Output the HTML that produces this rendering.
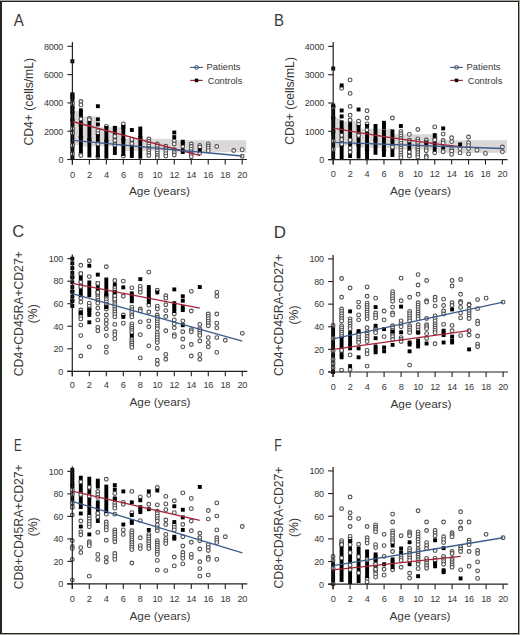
<!DOCTYPE html><html><head><meta charset="utf-8"><style>html,body{margin:0;padding:0;background:#fff;}svg{display:block;}</style></head><body>
<svg width="520" height="635" viewBox="0 0 520 635" font-family="Liberation Sans, sans-serif">
<rect x="0" y="0" width="520" height="635" fill="#fff"/>
<rect x="72.4" y="110.8" width="8.50" height="34.20" fill="#ddd8d8"/>
<rect x="80.9" y="116.5" width="16.10" height="30.00" fill="#ddd8d8"/>
<rect x="97.0" y="127.3" width="26.20" height="18.90" fill="#ddd8d8"/>
<rect x="123.2" y="138.8" width="50.70" height="12.00" fill="#ddd8d8"/>
<rect x="173.9" y="140.2" width="72.40" height="12.10" fill="#ddd8d8"/>
<circle cx="72.40" cy="97.50" r="1.88" fill="#fff" stroke="#505050" stroke-width="1.1"/>
<circle cx="72.40" cy="108.00" r="1.88" fill="#fff" stroke="#505050" stroke-width="1.1"/>
<circle cx="72.40" cy="112.00" r="1.88" fill="#fff" stroke="#505050" stroke-width="1.1"/>
<circle cx="72.40" cy="120.00" r="1.88" fill="#fff" stroke="#505050" stroke-width="1.1"/>
<circle cx="72.40" cy="133.00" r="1.88" fill="#fff" stroke="#505050" stroke-width="1.1"/>
<circle cx="72.40" cy="146.00" r="1.88" fill="#fff" stroke="#505050" stroke-width="1.1"/>
<circle cx="80.89" cy="101.50" r="1.88" fill="#fff" stroke="#505050" stroke-width="1.1"/>
<circle cx="80.89" cy="104.90" r="1.88" fill="#fff" stroke="#505050" stroke-width="1.1"/>
<circle cx="80.89" cy="153.80" r="1.88" fill="#fff" stroke="#505050" stroke-width="1.1"/>
<circle cx="80.89" cy="155.50" r="1.88" fill="#fff" stroke="#505050" stroke-width="1.1"/>
<circle cx="80.89" cy="125.00" r="1.88" fill="#fff" stroke="#505050" stroke-width="1.1"/>
<circle cx="80.89" cy="137.00" r="1.88" fill="#fff" stroke="#505050" stroke-width="1.1"/>
<circle cx="89.38" cy="118.40" r="1.88" fill="#fff" stroke="#505050" stroke-width="1.1"/>
<circle cx="89.38" cy="119.70" r="1.88" fill="#fff" stroke="#505050" stroke-width="1.1"/>
<circle cx="89.38" cy="140.00" r="1.88" fill="#fff" stroke="#505050" stroke-width="1.1"/>
<circle cx="97.87" cy="130.80" r="1.88" fill="#fff" stroke="#505050" stroke-width="1.1"/>
<circle cx="97.87" cy="133.70" r="1.88" fill="#fff" stroke="#505050" stroke-width="1.1"/>
<circle cx="97.87" cy="156.70" r="1.88" fill="#fff" stroke="#505050" stroke-width="1.1"/>
<circle cx="106.36" cy="126.40" r="1.88" fill="#fff" stroke="#505050" stroke-width="1.1"/>
<circle cx="106.36" cy="141.00" r="1.88" fill="#fff" stroke="#505050" stroke-width="1.1"/>
<circle cx="123.34" cy="123.90" r="1.88" fill="#fff" stroke="#505050" stroke-width="1.1"/>
<circle cx="123.34" cy="156.10" r="1.88" fill="#fff" stroke="#505050" stroke-width="1.1"/>
<circle cx="123.34" cy="140.00" r="1.88" fill="#fff" stroke="#505050" stroke-width="1.1"/>
<circle cx="148.81" cy="139.00" r="1.88" fill="#fff" stroke="#505050" stroke-width="1.1"/>
<circle cx="148.81" cy="141.36" r="1.88" fill="#fff" stroke="#505050" stroke-width="1.1"/>
<circle cx="148.81" cy="143.71" r="1.88" fill="#fff" stroke="#505050" stroke-width="1.1"/>
<circle cx="148.81" cy="146.07" r="1.88" fill="#fff" stroke="#505050" stroke-width="1.1"/>
<circle cx="148.81" cy="148.43" r="1.88" fill="#fff" stroke="#505050" stroke-width="1.1"/>
<circle cx="148.81" cy="150.79" r="1.88" fill="#fff" stroke="#505050" stroke-width="1.1"/>
<circle cx="148.81" cy="153.14" r="1.88" fill="#fff" stroke="#505050" stroke-width="1.1"/>
<circle cx="148.81" cy="155.50" r="1.88" fill="#fff" stroke="#505050" stroke-width="1.1"/>
<circle cx="157.30" cy="144.00" r="1.88" fill="#fff" stroke="#505050" stroke-width="1.1"/>
<circle cx="157.30" cy="146.30" r="1.88" fill="#fff" stroke="#505050" stroke-width="1.1"/>
<circle cx="157.30" cy="148.60" r="1.88" fill="#fff" stroke="#505050" stroke-width="1.1"/>
<circle cx="157.30" cy="150.90" r="1.88" fill="#fff" stroke="#505050" stroke-width="1.1"/>
<circle cx="157.30" cy="153.20" r="1.88" fill="#fff" stroke="#505050" stroke-width="1.1"/>
<circle cx="157.30" cy="155.50" r="1.88" fill="#fff" stroke="#505050" stroke-width="1.1"/>
<circle cx="157.30" cy="157.80" r="1.88" fill="#fff" stroke="#505050" stroke-width="1.1"/>
<circle cx="165.79" cy="146.30" r="1.88" fill="#fff" stroke="#505050" stroke-width="1.1"/>
<circle cx="165.79" cy="148.75" r="1.88" fill="#fff" stroke="#505050" stroke-width="1.1"/>
<circle cx="165.79" cy="151.20" r="1.88" fill="#fff" stroke="#505050" stroke-width="1.1"/>
<circle cx="165.79" cy="153.65" r="1.88" fill="#fff" stroke="#505050" stroke-width="1.1"/>
<circle cx="165.79" cy="156.10" r="1.88" fill="#fff" stroke="#505050" stroke-width="1.1"/>
<circle cx="174.28" cy="141.10" r="1.88" fill="#fff" stroke="#505050" stroke-width="1.1"/>
<circle cx="174.28" cy="144.00" r="1.88" fill="#fff" stroke="#505050" stroke-width="1.1"/>
<circle cx="174.28" cy="149.80" r="1.88" fill="#fff" stroke="#505050" stroke-width="1.1"/>
<circle cx="174.28" cy="152.60" r="1.88" fill="#fff" stroke="#505050" stroke-width="1.1"/>
<circle cx="174.28" cy="155.00" r="1.88" fill="#fff" stroke="#505050" stroke-width="1.1"/>
<circle cx="182.77" cy="146.30" r="1.88" fill="#fff" stroke="#505050" stroke-width="1.1"/>
<circle cx="191.26" cy="144.00" r="1.88" fill="#fff" stroke="#505050" stroke-width="1.1"/>
<circle cx="191.26" cy="146.54" r="1.88" fill="#fff" stroke="#505050" stroke-width="1.1"/>
<circle cx="191.26" cy="149.08" r="1.88" fill="#fff" stroke="#505050" stroke-width="1.1"/>
<circle cx="191.26" cy="151.62" r="1.88" fill="#fff" stroke="#505050" stroke-width="1.1"/>
<circle cx="191.26" cy="154.16" r="1.88" fill="#fff" stroke="#505050" stroke-width="1.1"/>
<circle cx="191.26" cy="156.70" r="1.88" fill="#fff" stroke="#505050" stroke-width="1.1"/>
<circle cx="199.75" cy="145.40" r="1.88" fill="#fff" stroke="#505050" stroke-width="1.1"/>
<circle cx="199.75" cy="147.00" r="1.88" fill="#fff" stroke="#505050" stroke-width="1.1"/>
<circle cx="199.75" cy="152.90" r="1.88" fill="#fff" stroke="#505050" stroke-width="1.1"/>
<circle cx="208.24" cy="143.90" r="1.88" fill="#fff" stroke="#505050" stroke-width="1.1"/>
<circle cx="208.24" cy="146.00" r="1.88" fill="#fff" stroke="#505050" stroke-width="1.1"/>
<circle cx="208.24" cy="148.10" r="1.88" fill="#fff" stroke="#505050" stroke-width="1.1"/>
<circle cx="208.24" cy="150.70" r="1.88" fill="#fff" stroke="#505050" stroke-width="1.1"/>
<circle cx="216.73" cy="146.50" r="1.88" fill="#fff" stroke="#505050" stroke-width="1.1"/>
<circle cx="233.71" cy="150.50" r="1.88" fill="#fff" stroke="#505050" stroke-width="1.1"/>
<circle cx="242.20" cy="149.70" r="1.88" fill="#fff" stroke="#505050" stroke-width="1.1"/>
<circle cx="242.20" cy="156.20" r="1.88" fill="#fff" stroke="#505050" stroke-width="1.1"/>
<rect x="70.45" y="93.05" width="3.9" height="66.90" fill="#000"/>
<circle cx="72.40" cy="103.40" r="1.88" fill="#fff" stroke="#505050" stroke-width="1.1"/>
<circle cx="72.40" cy="128.60" r="1.88" fill="#fff" stroke="#505050" stroke-width="1.1"/>
<circle cx="72.40" cy="132.80" r="1.88" fill="#fff" stroke="#505050" stroke-width="1.1"/>
<circle cx="72.40" cy="145.40" r="1.88" fill="#fff" stroke="#505050" stroke-width="1.1"/>
<circle cx="72.40" cy="153.80" r="1.88" fill="#fff" stroke="#505050" stroke-width="1.1"/>
<rect x="78.94" y="113.05" width="3.9" height="39.90" fill="#000"/>
<circle cx="80.89" cy="119.00" r="1.88" fill="#fff" stroke="#505050" stroke-width="1.1"/>
<rect x="87.43" y="121.05" width="3.9" height="36.40" fill="#000"/>
<rect x="95.92" y="134.05" width="3.9" height="23.40" fill="#000"/>
<circle cx="97.87" cy="143.80" r="1.88" fill="#fff" stroke="#505050" stroke-width="1.1"/>
<rect x="104.41" y="126.05" width="3.9" height="32.60" fill="#000"/>
<rect x="112.90" y="126.05" width="3.9" height="28.90" fill="#000"/>
<circle cx="114.85" cy="136.33" r="1.88" fill="#fff" stroke="#505050" stroke-width="1.1"/>
<circle cx="114.85" cy="140.50" r="1.88" fill="#fff" stroke="#505050" stroke-width="1.1"/>
<circle cx="114.85" cy="144.67" r="1.88" fill="#fff" stroke="#505050" stroke-width="1.1"/>
<rect x="121.39" y="125.05" width="3.9" height="30.90" fill="#000"/>
<rect x="129.88" y="137.45" width="3.9" height="20.50" fill="#000"/>
<circle cx="131.83" cy="139.40" r="1.88" fill="#fff" stroke="#505050" stroke-width="1.1"/>
<circle cx="131.83" cy="143.55" r="1.88" fill="#fff" stroke="#505050" stroke-width="1.1"/>
<rect x="138.37" y="136.05" width="3.9" height="22.60" fill="#000"/>
<rect x="70.45" y="59.35" width="3.9" height="3.9" fill="#000"/>
<rect x="70.45" y="92.35" width="3.9" height="3.9" fill="#000"/>
<rect x="78.94" y="108.35" width="3.9" height="3.9" fill="#000"/>
<rect x="78.94" y="111.65" width="3.9" height="3.9" fill="#000"/>
<rect x="95.92" y="104.25" width="3.9" height="3.9" fill="#000"/>
<rect x="95.92" y="117.35" width="3.9" height="3.9" fill="#000"/>
<rect x="95.92" y="122.45" width="3.9" height="3.9" fill="#000"/>
<rect x="112.90" y="125.85" width="3.9" height="3.9" fill="#000"/>
<rect x="121.39" y="124.85" width="3.9" height="3.9" fill="#000"/>
<rect x="129.88" y="128.05" width="3.9" height="3.9" fill="#000"/>
<rect x="138.37" y="126.55" width="3.9" height="3.9" fill="#000"/>
<rect x="138.37" y="129.72" width="3.9" height="3.9" fill="#000"/>
<rect x="138.37" y="132.88" width="3.9" height="3.9" fill="#000"/>
<rect x="138.37" y="136.05" width="3.9" height="3.9" fill="#000"/>
<rect x="172.33" y="130.55" width="3.9" height="3.9" fill="#000"/>
<rect x="172.33" y="135.15" width="3.9" height="3.9" fill="#000"/>
<rect x="180.82" y="139.75" width="3.9" height="3.9" fill="#000"/>
<rect x="180.82" y="141.45" width="3.9" height="3.9" fill="#000"/>
<rect x="180.82" y="148.35" width="3.9" height="3.9" fill="#000"/>
<rect x="180.82" y="150.05" width="3.9" height="3.9" fill="#000"/>
<rect x="197.80" y="148.25" width="3.9" height="3.9" fill="#000"/>
<path d="M72.40,121.50 L200.26,155.70" fill="none" stroke="#a82338" stroke-width="1.3"/>
<path d="M72.40,140.40 L242.20,156.00" fill="none" stroke="#3c5a8c" stroke-width="1.3"/>
<line x1="72.4" y1="42.0" x2="72.4" y2="164.5" stroke="#231f20" stroke-width="1.2"/>
<line x1="67.4" y1="159.5" x2="247.0" y2="159.5" stroke="#231f20" stroke-width="1.2"/>
<line x1="67.4" y1="159.50" x2="72.4" y2="159.50" stroke="#231f20" stroke-width="1.1"/>
<text x="63.20" y="162.80" font-size="9.0" letter-spacing="-0.2" text-anchor="end" fill="#383838">0</text>
<line x1="67.4" y1="131.20" x2="72.4" y2="131.20" stroke="#231f20" stroke-width="1.1"/>
<text x="63.20" y="134.50" font-size="9.0" letter-spacing="-0.2" text-anchor="end" fill="#383838">2000</text>
<line x1="67.4" y1="102.90" x2="72.4" y2="102.90" stroke="#231f20" stroke-width="1.1"/>
<text x="63.20" y="106.20" font-size="9.0" letter-spacing="-0.2" text-anchor="end" fill="#383838">4000</text>
<line x1="67.4" y1="74.60" x2="72.4" y2="74.60" stroke="#231f20" stroke-width="1.1"/>
<text x="63.20" y="77.90" font-size="9.0" letter-spacing="-0.2" text-anchor="end" fill="#383838">6000</text>
<line x1="67.4" y1="46.30" x2="72.4" y2="46.30" stroke="#231f20" stroke-width="1.1"/>
<text x="63.20" y="49.60" font-size="9.0" letter-spacing="-0.2" text-anchor="end" fill="#383838">8000</text>
<line x1="72.40" y1="159.5" x2="72.40" y2="164.5" stroke="#231f20" stroke-width="1.1"/>
<text x="72.40" y="177.5" font-size="9.2" letter-spacing="-0.25" text-anchor="middle" fill="#383838">0</text>
<line x1="89.38" y1="159.5" x2="89.38" y2="164.5" stroke="#231f20" stroke-width="1.1"/>
<text x="89.38" y="177.5" font-size="9.2" letter-spacing="-0.25" text-anchor="middle" fill="#383838">2</text>
<line x1="106.36" y1="159.5" x2="106.36" y2="164.5" stroke="#231f20" stroke-width="1.1"/>
<text x="106.36" y="177.5" font-size="9.2" letter-spacing="-0.25" text-anchor="middle" fill="#383838">4</text>
<line x1="123.34" y1="159.5" x2="123.34" y2="164.5" stroke="#231f20" stroke-width="1.1"/>
<text x="123.34" y="177.5" font-size="9.2" letter-spacing="-0.25" text-anchor="middle" fill="#383838">6</text>
<line x1="140.32" y1="159.5" x2="140.32" y2="164.5" stroke="#231f20" stroke-width="1.1"/>
<text x="140.32" y="177.5" font-size="9.2" letter-spacing="-0.25" text-anchor="middle" fill="#383838">8</text>
<line x1="157.30" y1="159.5" x2="157.30" y2="164.5" stroke="#231f20" stroke-width="1.1"/>
<text x="157.30" y="177.5" font-size="9.2" letter-spacing="-0.25" text-anchor="middle" fill="#383838">10</text>
<line x1="174.28" y1="159.5" x2="174.28" y2="164.5" stroke="#231f20" stroke-width="1.1"/>
<text x="174.28" y="177.5" font-size="9.2" letter-spacing="-0.25" text-anchor="middle" fill="#383838">12</text>
<line x1="191.26" y1="159.5" x2="191.26" y2="164.5" stroke="#231f20" stroke-width="1.1"/>
<text x="191.26" y="177.5" font-size="9.2" letter-spacing="-0.25" text-anchor="middle" fill="#383838">14</text>
<line x1="208.24" y1="159.5" x2="208.24" y2="164.5" stroke="#231f20" stroke-width="1.1"/>
<text x="208.24" y="177.5" font-size="9.2" letter-spacing="-0.25" text-anchor="middle" fill="#383838">16</text>
<line x1="225.22" y1="159.5" x2="225.22" y2="164.5" stroke="#231f20" stroke-width="1.1"/>
<text x="225.22" y="177.5" font-size="9.2" letter-spacing="-0.25" text-anchor="middle" fill="#383838">18</text>
<line x1="242.20" y1="159.5" x2="242.20" y2="164.5" stroke="#231f20" stroke-width="1.1"/>
<text x="242.20" y="177.5" font-size="9.2" letter-spacing="-0.25" text-anchor="middle" fill="#383838">20</text>
<text x="159.5" y="195.1" font-size="11.8" text-anchor="middle" fill="#383838">Age (years)</text>
<text transform="translate(33.1,101.75) rotate(-90)" x="0" y="0" font-size="12.2" text-anchor="middle" fill="#383838">CD4+ (cells/mL)</text>
<text transform="translate(13.8,25.8) scale(0.91,1)" x="0" y="0" font-size="16.6" fill="#383838">A</text>
<rect x="333.2" y="118" width="8.30" height="29.70" fill="#ddd8d8"/>
<rect x="341.5" y="121.4" width="16.50" height="24.30" fill="#ddd8d8"/>
<rect x="358" y="128.7" width="34.00" height="19.30" fill="#ddd8d8"/>
<rect x="392" y="134.2" width="46.00" height="15.40" fill="#ddd8d8"/>
<rect x="438" y="140.2" width="69.00" height="12.70" fill="#ddd8d8"/>
<circle cx="333.20" cy="118.00" r="1.88" fill="#fff" stroke="#505050" stroke-width="1.1"/>
<circle cx="333.20" cy="132.00" r="1.88" fill="#fff" stroke="#505050" stroke-width="1.1"/>
<circle cx="341.66" cy="88.30" r="1.88" fill="#fff" stroke="#505050" stroke-width="1.1"/>
<circle cx="341.66" cy="130.00" r="1.88" fill="#fff" stroke="#505050" stroke-width="1.1"/>
<circle cx="341.66" cy="145.00" r="1.88" fill="#fff" stroke="#505050" stroke-width="1.1"/>
<circle cx="350.12" cy="79.90" r="1.88" fill="#fff" stroke="#505050" stroke-width="1.1"/>
<circle cx="350.12" cy="93.40" r="1.88" fill="#fff" stroke="#505050" stroke-width="1.1"/>
<circle cx="350.12" cy="106.40" r="1.88" fill="#fff" stroke="#505050" stroke-width="1.1"/>
<circle cx="350.12" cy="115.30" r="1.88" fill="#fff" stroke="#505050" stroke-width="1.1"/>
<circle cx="350.12" cy="140.00" r="1.88" fill="#fff" stroke="#505050" stroke-width="1.1"/>
<circle cx="358.58" cy="121.20" r="1.88" fill="#fff" stroke="#505050" stroke-width="1.1"/>
<circle cx="358.58" cy="124.40" r="1.88" fill="#fff" stroke="#505050" stroke-width="1.1"/>
<circle cx="358.58" cy="145.00" r="1.88" fill="#fff" stroke="#505050" stroke-width="1.1"/>
<circle cx="367.04" cy="110.80" r="1.88" fill="#fff" stroke="#505050" stroke-width="1.1"/>
<circle cx="367.04" cy="118.00" r="1.88" fill="#fff" stroke="#505050" stroke-width="1.1"/>
<circle cx="367.04" cy="123.90" r="1.88" fill="#fff" stroke="#505050" stroke-width="1.1"/>
<circle cx="367.04" cy="150.00" r="1.88" fill="#fff" stroke="#505050" stroke-width="1.1"/>
<circle cx="375.50" cy="140.00" r="1.88" fill="#fff" stroke="#505050" stroke-width="1.1"/>
<circle cx="383.96" cy="150.00" r="1.88" fill="#fff" stroke="#505050" stroke-width="1.1"/>
<circle cx="392.42" cy="118.00" r="1.88" fill="#fff" stroke="#505050" stroke-width="1.1"/>
<circle cx="400.88" cy="131.40" r="1.88" fill="#fff" stroke="#505050" stroke-width="1.1"/>
<circle cx="400.88" cy="133.78" r="1.88" fill="#fff" stroke="#505050" stroke-width="1.1"/>
<circle cx="400.88" cy="136.16" r="1.88" fill="#fff" stroke="#505050" stroke-width="1.1"/>
<circle cx="400.88" cy="138.55" r="1.88" fill="#fff" stroke="#505050" stroke-width="1.1"/>
<circle cx="400.88" cy="140.93" r="1.88" fill="#fff" stroke="#505050" stroke-width="1.1"/>
<circle cx="400.88" cy="143.31" r="1.88" fill="#fff" stroke="#505050" stroke-width="1.1"/>
<circle cx="400.88" cy="145.69" r="1.88" fill="#fff" stroke="#505050" stroke-width="1.1"/>
<circle cx="400.88" cy="148.07" r="1.88" fill="#fff" stroke="#505050" stroke-width="1.1"/>
<circle cx="400.88" cy="150.45" r="1.88" fill="#fff" stroke="#505050" stroke-width="1.1"/>
<circle cx="400.88" cy="152.84" r="1.88" fill="#fff" stroke="#505050" stroke-width="1.1"/>
<circle cx="400.88" cy="155.22" r="1.88" fill="#fff" stroke="#505050" stroke-width="1.1"/>
<circle cx="400.88" cy="157.60" r="1.88" fill="#fff" stroke="#505050" stroke-width="1.1"/>
<circle cx="409.34" cy="134.40" r="1.88" fill="#fff" stroke="#505050" stroke-width="1.1"/>
<circle cx="417.80" cy="129.50" r="1.88" fill="#fff" stroke="#505050" stroke-width="1.1"/>
<circle cx="417.80" cy="138.90" r="1.88" fill="#fff" stroke="#505050" stroke-width="1.1"/>
<circle cx="417.80" cy="141.18" r="1.88" fill="#fff" stroke="#505050" stroke-width="1.1"/>
<circle cx="417.80" cy="143.45" r="1.88" fill="#fff" stroke="#505050" stroke-width="1.1"/>
<circle cx="417.80" cy="145.72" r="1.88" fill="#fff" stroke="#505050" stroke-width="1.1"/>
<circle cx="417.80" cy="148.00" r="1.88" fill="#fff" stroke="#505050" stroke-width="1.1"/>
<circle cx="417.80" cy="150.28" r="1.88" fill="#fff" stroke="#505050" stroke-width="1.1"/>
<circle cx="417.80" cy="152.55" r="1.88" fill="#fff" stroke="#505050" stroke-width="1.1"/>
<circle cx="417.80" cy="154.82" r="1.88" fill="#fff" stroke="#505050" stroke-width="1.1"/>
<circle cx="417.80" cy="157.10" r="1.88" fill="#fff" stroke="#505050" stroke-width="1.1"/>
<circle cx="426.26" cy="140.00" r="1.88" fill="#fff" stroke="#505050" stroke-width="1.1"/>
<circle cx="426.26" cy="142.10" r="1.88" fill="#fff" stroke="#505050" stroke-width="1.1"/>
<circle cx="426.26" cy="148.50" r="1.88" fill="#fff" stroke="#505050" stroke-width="1.1"/>
<circle cx="426.26" cy="150.70" r="1.88" fill="#fff" stroke="#505050" stroke-width="1.1"/>
<circle cx="426.26" cy="156.00" r="1.88" fill="#fff" stroke="#505050" stroke-width="1.1"/>
<circle cx="426.26" cy="157.60" r="1.88" fill="#fff" stroke="#505050" stroke-width="1.1"/>
<circle cx="434.72" cy="126.90" r="1.88" fill="#fff" stroke="#505050" stroke-width="1.1"/>
<circle cx="434.72" cy="152.80" r="1.88" fill="#fff" stroke="#505050" stroke-width="1.1"/>
<circle cx="443.18" cy="134.10" r="1.88" fill="#fff" stroke="#505050" stroke-width="1.1"/>
<circle cx="443.18" cy="140.50" r="1.88" fill="#fff" stroke="#505050" stroke-width="1.1"/>
<circle cx="443.18" cy="143.00" r="1.88" fill="#fff" stroke="#505050" stroke-width="1.1"/>
<circle cx="443.18" cy="151.70" r="1.88" fill="#fff" stroke="#505050" stroke-width="1.1"/>
<circle cx="451.64" cy="137.80" r="1.88" fill="#fff" stroke="#505050" stroke-width="1.1"/>
<circle cx="451.64" cy="141.60" r="1.88" fill="#fff" stroke="#505050" stroke-width="1.1"/>
<circle cx="451.64" cy="149.60" r="1.88" fill="#fff" stroke="#505050" stroke-width="1.1"/>
<circle cx="451.64" cy="151.20" r="1.88" fill="#fff" stroke="#505050" stroke-width="1.1"/>
<circle cx="451.64" cy="154.40" r="1.88" fill="#fff" stroke="#505050" stroke-width="1.1"/>
<circle cx="460.10" cy="148.60" r="1.88" fill="#fff" stroke="#505050" stroke-width="1.1"/>
<circle cx="460.10" cy="152.90" r="1.88" fill="#fff" stroke="#505050" stroke-width="1.1"/>
<circle cx="468.56" cy="137.00" r="1.88" fill="#fff" stroke="#505050" stroke-width="1.1"/>
<circle cx="468.56" cy="142.80" r="1.88" fill="#fff" stroke="#505050" stroke-width="1.1"/>
<circle cx="468.56" cy="145.70" r="1.88" fill="#fff" stroke="#505050" stroke-width="1.1"/>
<circle cx="468.56" cy="148.60" r="1.88" fill="#fff" stroke="#505050" stroke-width="1.1"/>
<circle cx="468.56" cy="153.90" r="1.88" fill="#fff" stroke="#505050" stroke-width="1.1"/>
<circle cx="477.02" cy="150.20" r="1.88" fill="#fff" stroke="#505050" stroke-width="1.1"/>
<circle cx="485.48" cy="153.40" r="1.88" fill="#fff" stroke="#505050" stroke-width="1.1"/>
<circle cx="502.40" cy="147.00" r="1.88" fill="#fff" stroke="#505050" stroke-width="1.1"/>
<circle cx="502.40" cy="151.80" r="1.88" fill="#fff" stroke="#505050" stroke-width="1.1"/>
<rect x="331.25" y="105.05" width="3.9" height="54.90" fill="#000"/>
<circle cx="333.20" cy="107.00" r="1.88" fill="#fff" stroke="#505050" stroke-width="1.1"/>
<circle cx="333.20" cy="141.00" r="1.88" fill="#fff" stroke="#505050" stroke-width="1.1"/>
<circle cx="333.20" cy="149.50" r="1.88" fill="#fff" stroke="#505050" stroke-width="1.1"/>
<rect x="339.71" y="120.35" width="3.9" height="38.70" fill="#000"/>
<circle cx="341.66" cy="135.35" r="1.88" fill="#fff" stroke="#505050" stroke-width="1.1"/>
<circle cx="341.66" cy="139.70" r="1.88" fill="#fff" stroke="#505050" stroke-width="1.1"/>
<circle cx="341.66" cy="144.05" r="1.88" fill="#fff" stroke="#505050" stroke-width="1.1"/>
<rect x="348.17" y="118.25" width="3.9" height="39.70" fill="#000"/>
<circle cx="350.12" cy="120.20" r="1.88" fill="#fff" stroke="#505050" stroke-width="1.1"/>
<circle cx="350.12" cy="140.09" r="1.88" fill="#fff" stroke="#505050" stroke-width="1.1"/>
<circle cx="350.12" cy="148.04" r="1.88" fill="#fff" stroke="#505050" stroke-width="1.1"/>
<circle cx="350.12" cy="152.02" r="1.88" fill="#fff" stroke="#505050" stroke-width="1.1"/>
<rect x="356.63" y="125.05" width="3.9" height="33.50" fill="#000"/>
<circle cx="358.58" cy="135.46" r="1.88" fill="#fff" stroke="#505050" stroke-width="1.1"/>
<rect x="365.09" y="124.05" width="3.9" height="36.10" fill="#000"/>
<circle cx="367.04" cy="130.03" r="1.88" fill="#fff" stroke="#505050" stroke-width="1.1"/>
<rect x="373.55" y="124.05" width="3.9" height="30.70" fill="#000"/>
<rect x="382.01" y="129.45" width="3.9" height="27.50" fill="#000"/>
<rect x="390.47" y="129.45" width="3.9" height="27.50" fill="#000"/>
<circle cx="392.42" cy="147.13" r="1.88" fill="#fff" stroke="#505050" stroke-width="1.1"/>
<rect x="407.39" y="138.55" width="3.9" height="19.40" fill="#000"/>
<circle cx="409.34" cy="140.50" r="1.88" fill="#fff" stroke="#505050" stroke-width="1.1"/>
<circle cx="409.34" cy="152.12" r="1.88" fill="#fff" stroke="#505050" stroke-width="1.1"/>
<circle cx="409.34" cy="156.00" r="1.88" fill="#fff" stroke="#505050" stroke-width="1.1"/>
<rect x="432.77" y="133.15" width="3.9" height="18.40" fill="#000"/>
<circle cx="434.72" cy="139.93" r="1.88" fill="#fff" stroke="#505050" stroke-width="1.1"/>
<rect x="331.25" y="66.55" width="3.9" height="3.9" fill="#000"/>
<rect x="331.25" y="103.55" width="3.9" height="3.9" fill="#000"/>
<rect x="339.71" y="83.45" width="3.9" height="3.9" fill="#000"/>
<rect x="339.71" y="108.55" width="3.9" height="3.9" fill="#000"/>
<rect x="339.71" y="114.45" width="3.9" height="3.9" fill="#000"/>
<rect x="356.63" y="107.55" width="3.9" height="3.9" fill="#000"/>
<rect x="382.01" y="120.85" width="3.9" height="3.9" fill="#000"/>
<rect x="382.01" y="123.00" width="3.9" height="3.9" fill="#000"/>
<rect x="382.01" y="125.15" width="3.9" height="3.9" fill="#000"/>
<rect x="398.93" y="124.05" width="3.9" height="3.9" fill="#000"/>
<rect x="424.31" y="141.25" width="3.9" height="3.9" fill="#000"/>
<rect x="441.23" y="126.45" width="3.9" height="3.9" fill="#000"/>
<rect x="441.23" y="145.55" width="3.9" height="3.9" fill="#000"/>
<rect x="458.15" y="142.45" width="3.9" height="3.9" fill="#000"/>
<path d="M333.20,128.10 L337.49,128.87 L341.77,129.63 L346.06,130.38 L350.35,131.12 L354.63,131.85 L358.92,132.57 L363.20,133.27 L367.49,133.97 L371.78,134.65 L376.06,135.33 L380.35,135.99 L384.64,136.65 L388.92,137.29 L393.21,137.93 L397.50,138.55 L401.78,139.17 L406.07,139.78 L410.36,140.38 L414.64,140.97 L418.93,141.55 L423.21,142.12 L427.50,142.68 L431.79,143.24 L436.07,143.78 L440.36,144.32 L444.65,144.85 L448.93,145.38 L453.22,145.89 L457.51,146.40 L461.79,146.90" fill="none" stroke="#a82338" stroke-width="1.3"/>
<path d="M333.20,142.30 L502.40,148.50" fill="none" stroke="#3c5a8c" stroke-width="1.3"/>
<line x1="333.2" y1="42.1" x2="333.2" y2="164.6" stroke="#231f20" stroke-width="1.2"/>
<line x1="328.2" y1="159.6" x2="507.5" y2="159.6" stroke="#231f20" stroke-width="1.2"/>
<line x1="328.2" y1="159.60" x2="333.2" y2="159.60" stroke="#231f20" stroke-width="1.1"/>
<text x="324.00" y="162.90" font-size="9.0" letter-spacing="-0.2" text-anchor="end" fill="#383838">0</text>
<line x1="328.2" y1="131.30" x2="333.2" y2="131.30" stroke="#231f20" stroke-width="1.1"/>
<text x="324.00" y="134.60" font-size="9.0" letter-spacing="-0.2" text-anchor="end" fill="#383838">1000</text>
<line x1="328.2" y1="103.00" x2="333.2" y2="103.00" stroke="#231f20" stroke-width="1.1"/>
<text x="324.00" y="106.30" font-size="9.0" letter-spacing="-0.2" text-anchor="end" fill="#383838">2000</text>
<line x1="328.2" y1="74.70" x2="333.2" y2="74.70" stroke="#231f20" stroke-width="1.1"/>
<text x="324.00" y="78.00" font-size="9.0" letter-spacing="-0.2" text-anchor="end" fill="#383838">3000</text>
<line x1="328.2" y1="46.40" x2="333.2" y2="46.40" stroke="#231f20" stroke-width="1.1"/>
<text x="324.00" y="49.70" font-size="9.0" letter-spacing="-0.2" text-anchor="end" fill="#383838">4000</text>
<line x1="333.20" y1="159.6" x2="333.20" y2="164.6" stroke="#231f20" stroke-width="1.1"/>
<text x="333.20" y="177.4" font-size="9.2" letter-spacing="-0.25" text-anchor="middle" fill="#383838">0</text>
<line x1="350.12" y1="159.6" x2="350.12" y2="164.6" stroke="#231f20" stroke-width="1.1"/>
<text x="350.12" y="177.4" font-size="9.2" letter-spacing="-0.25" text-anchor="middle" fill="#383838">2</text>
<line x1="367.04" y1="159.6" x2="367.04" y2="164.6" stroke="#231f20" stroke-width="1.1"/>
<text x="367.04" y="177.4" font-size="9.2" letter-spacing="-0.25" text-anchor="middle" fill="#383838">4</text>
<line x1="383.96" y1="159.6" x2="383.96" y2="164.6" stroke="#231f20" stroke-width="1.1"/>
<text x="383.96" y="177.4" font-size="9.2" letter-spacing="-0.25" text-anchor="middle" fill="#383838">6</text>
<line x1="400.88" y1="159.6" x2="400.88" y2="164.6" stroke="#231f20" stroke-width="1.1"/>
<text x="400.88" y="177.4" font-size="9.2" letter-spacing="-0.25" text-anchor="middle" fill="#383838">8</text>
<line x1="417.80" y1="159.6" x2="417.80" y2="164.6" stroke="#231f20" stroke-width="1.1"/>
<text x="417.80" y="177.4" font-size="9.2" letter-spacing="-0.25" text-anchor="middle" fill="#383838">10</text>
<line x1="434.72" y1="159.6" x2="434.72" y2="164.6" stroke="#231f20" stroke-width="1.1"/>
<text x="434.72" y="177.4" font-size="9.2" letter-spacing="-0.25" text-anchor="middle" fill="#383838">12</text>
<line x1="451.64" y1="159.6" x2="451.64" y2="164.6" stroke="#231f20" stroke-width="1.1"/>
<text x="451.64" y="177.4" font-size="9.2" letter-spacing="-0.25" text-anchor="middle" fill="#383838">14</text>
<line x1="468.56" y1="159.6" x2="468.56" y2="164.6" stroke="#231f20" stroke-width="1.1"/>
<text x="468.56" y="177.4" font-size="9.2" letter-spacing="-0.25" text-anchor="middle" fill="#383838">16</text>
<line x1="485.48" y1="159.6" x2="485.48" y2="164.6" stroke="#231f20" stroke-width="1.1"/>
<text x="485.48" y="177.4" font-size="9.2" letter-spacing="-0.25" text-anchor="middle" fill="#383838">18</text>
<line x1="502.40" y1="159.6" x2="502.40" y2="164.6" stroke="#231f20" stroke-width="1.1"/>
<text x="502.40" y="177.4" font-size="9.2" letter-spacing="-0.25" text-anchor="middle" fill="#383838">20</text>
<text x="420.5" y="195.4" font-size="11.8" text-anchor="middle" fill="#383838">Age (years)</text>
<text transform="translate(293.9,100.9) rotate(-90)" x="0" y="0" font-size="12.2" text-anchor="middle" fill="#383838">CD8+ (cells/mL)</text>
<text transform="translate(273.9,25.8) scale(0.9,1)" x="0" y="0" font-size="16.6" fill="#383838">B</text>
<circle cx="72.30" cy="276.67" r="1.88" fill="#fff" stroke="#505050" stroke-width="1.1"/>
<circle cx="72.30" cy="291.32" r="1.88" fill="#fff" stroke="#505050" stroke-width="1.1"/>
<circle cx="72.30" cy="300.33" r="1.88" fill="#fff" stroke="#505050" stroke-width="1.1"/>
<circle cx="80.80" cy="265.30" r="1.88" fill="#fff" stroke="#505050" stroke-width="1.1"/>
<circle cx="80.80" cy="298.19" r="1.88" fill="#fff" stroke="#505050" stroke-width="1.1"/>
<circle cx="80.80" cy="302.13" r="1.88" fill="#fff" stroke="#505050" stroke-width="1.1"/>
<circle cx="80.80" cy="310.02" r="1.88" fill="#fff" stroke="#505050" stroke-width="1.1"/>
<circle cx="80.80" cy="312.24" r="1.88" fill="#fff" stroke="#505050" stroke-width="1.1"/>
<circle cx="80.80" cy="314.47" r="1.88" fill="#fff" stroke="#505050" stroke-width="1.1"/>
<circle cx="80.80" cy="316.69" r="1.88" fill="#fff" stroke="#505050" stroke-width="1.1"/>
<circle cx="80.80" cy="318.92" r="1.88" fill="#fff" stroke="#505050" stroke-width="1.1"/>
<circle cx="80.80" cy="325.11" r="1.88" fill="#fff" stroke="#505050" stroke-width="1.1"/>
<circle cx="80.80" cy="335.59" r="1.88" fill="#fff" stroke="#505050" stroke-width="1.1"/>
<circle cx="80.80" cy="355.98" r="1.88" fill="#fff" stroke="#505050" stroke-width="1.1"/>
<circle cx="89.30" cy="260.79" r="1.88" fill="#fff" stroke="#505050" stroke-width="1.1"/>
<circle cx="89.30" cy="276.56" r="1.88" fill="#fff" stroke="#505050" stroke-width="1.1"/>
<circle cx="89.30" cy="303.15" r="1.88" fill="#fff" stroke="#505050" stroke-width="1.1"/>
<circle cx="89.30" cy="306.08" r="1.88" fill="#fff" stroke="#505050" stroke-width="1.1"/>
<circle cx="89.30" cy="309.00" r="1.88" fill="#fff" stroke="#505050" stroke-width="1.1"/>
<circle cx="89.30" cy="346.85" r="1.88" fill="#fff" stroke="#505050" stroke-width="1.1"/>
<circle cx="97.80" cy="292.44" r="1.88" fill="#fff" stroke="#505050" stroke-width="1.1"/>
<circle cx="97.80" cy="295.12" r="1.88" fill="#fff" stroke="#505050" stroke-width="1.1"/>
<circle cx="97.80" cy="297.80" r="1.88" fill="#fff" stroke="#505050" stroke-width="1.1"/>
<circle cx="97.80" cy="300.47" r="1.88" fill="#fff" stroke="#505050" stroke-width="1.1"/>
<circle cx="97.80" cy="303.15" r="1.88" fill="#fff" stroke="#505050" stroke-width="1.1"/>
<circle cx="97.80" cy="308.10" r="1.88" fill="#fff" stroke="#505050" stroke-width="1.1"/>
<circle cx="97.80" cy="313.96" r="1.88" fill="#fff" stroke="#505050" stroke-width="1.1"/>
<circle cx="97.80" cy="319.93" r="1.88" fill="#fff" stroke="#505050" stroke-width="1.1"/>
<circle cx="97.80" cy="327.37" r="1.88" fill="#fff" stroke="#505050" stroke-width="1.1"/>
<circle cx="97.80" cy="330.75" r="1.88" fill="#fff" stroke="#505050" stroke-width="1.1"/>
<circle cx="106.30" cy="266.76" r="1.88" fill="#fff" stroke="#505050" stroke-width="1.1"/>
<circle cx="106.30" cy="294.70" r="1.88" fill="#fff" stroke="#505050" stroke-width="1.1"/>
<circle cx="106.30" cy="297.08" r="1.88" fill="#fff" stroke="#505050" stroke-width="1.1"/>
<circle cx="106.30" cy="299.47" r="1.88" fill="#fff" stroke="#505050" stroke-width="1.1"/>
<circle cx="106.30" cy="301.85" r="1.88" fill="#fff" stroke="#505050" stroke-width="1.1"/>
<circle cx="106.30" cy="304.24" r="1.88" fill="#fff" stroke="#505050" stroke-width="1.1"/>
<circle cx="106.30" cy="306.62" r="1.88" fill="#fff" stroke="#505050" stroke-width="1.1"/>
<circle cx="106.30" cy="309.00" r="1.88" fill="#fff" stroke="#505050" stroke-width="1.1"/>
<circle cx="106.30" cy="314.98" r="1.88" fill="#fff" stroke="#505050" stroke-width="1.1"/>
<circle cx="106.30" cy="319.93" r="1.88" fill="#fff" stroke="#505050" stroke-width="1.1"/>
<circle cx="106.30" cy="323.87" r="1.88" fill="#fff" stroke="#505050" stroke-width="1.1"/>
<circle cx="106.30" cy="328.72" r="1.88" fill="#fff" stroke="#505050" stroke-width="1.1"/>
<circle cx="106.30" cy="335.59" r="1.88" fill="#fff" stroke="#505050" stroke-width="1.1"/>
<circle cx="106.30" cy="346.85" r="1.88" fill="#fff" stroke="#505050" stroke-width="1.1"/>
<circle cx="106.30" cy="352.37" r="1.88" fill="#fff" stroke="#505050" stroke-width="1.1"/>
<circle cx="114.80" cy="280.50" r="1.88" fill="#fff" stroke="#505050" stroke-width="1.1"/>
<circle cx="114.80" cy="287.38" r="1.88" fill="#fff" stroke="#505050" stroke-width="1.1"/>
<circle cx="114.80" cy="289.84" r="1.88" fill="#fff" stroke="#505050" stroke-width="1.1"/>
<circle cx="114.80" cy="292.29" r="1.88" fill="#fff" stroke="#505050" stroke-width="1.1"/>
<circle cx="114.80" cy="294.75" r="1.88" fill="#fff" stroke="#505050" stroke-width="1.1"/>
<circle cx="114.80" cy="297.21" r="1.88" fill="#fff" stroke="#505050" stroke-width="1.1"/>
<circle cx="114.80" cy="299.67" r="1.88" fill="#fff" stroke="#505050" stroke-width="1.1"/>
<circle cx="114.80" cy="302.13" r="1.88" fill="#fff" stroke="#505050" stroke-width="1.1"/>
<circle cx="114.80" cy="304.59" r="1.88" fill="#fff" stroke="#505050" stroke-width="1.1"/>
<circle cx="114.80" cy="307.05" r="1.88" fill="#fff" stroke="#505050" stroke-width="1.1"/>
<circle cx="114.80" cy="309.51" r="1.88" fill="#fff" stroke="#505050" stroke-width="1.1"/>
<circle cx="114.80" cy="311.97" r="1.88" fill="#fff" stroke="#505050" stroke-width="1.1"/>
<circle cx="114.80" cy="314.43" r="1.88" fill="#fff" stroke="#505050" stroke-width="1.1"/>
<circle cx="114.80" cy="316.89" r="1.88" fill="#fff" stroke="#505050" stroke-width="1.1"/>
<circle cx="114.80" cy="324.44" r="1.88" fill="#fff" stroke="#505050" stroke-width="1.1"/>
<circle cx="114.80" cy="331.76" r="1.88" fill="#fff" stroke="#505050" stroke-width="1.1"/>
<circle cx="114.80" cy="334.69" r="1.88" fill="#fff" stroke="#505050" stroke-width="1.1"/>
<circle cx="114.80" cy="338.63" r="1.88" fill="#fff" stroke="#505050" stroke-width="1.1"/>
<circle cx="123.30" cy="281.07" r="1.88" fill="#fff" stroke="#505050" stroke-width="1.1"/>
<circle cx="123.30" cy="296.28" r="1.88" fill="#fff" stroke="#505050" stroke-width="1.1"/>
<circle cx="123.30" cy="314.98" r="1.88" fill="#fff" stroke="#505050" stroke-width="1.1"/>
<circle cx="123.30" cy="323.20" r="1.88" fill="#fff" stroke="#505050" stroke-width="1.1"/>
<circle cx="131.80" cy="287.83" r="1.88" fill="#fff" stroke="#505050" stroke-width="1.1"/>
<circle cx="131.80" cy="307.09" r="1.88" fill="#fff" stroke="#505050" stroke-width="1.1"/>
<circle cx="131.80" cy="309.72" r="1.88" fill="#fff" stroke="#505050" stroke-width="1.1"/>
<circle cx="131.80" cy="312.35" r="1.88" fill="#fff" stroke="#505050" stroke-width="1.1"/>
<circle cx="131.80" cy="314.98" r="1.88" fill="#fff" stroke="#505050" stroke-width="1.1"/>
<circle cx="131.80" cy="316.89" r="1.88" fill="#fff" stroke="#505050" stroke-width="1.1"/>
<circle cx="131.80" cy="323.87" r="1.88" fill="#fff" stroke="#505050" stroke-width="1.1"/>
<circle cx="131.80" cy="326.07" r="1.88" fill="#fff" stroke="#505050" stroke-width="1.1"/>
<circle cx="131.80" cy="328.27" r="1.88" fill="#fff" stroke="#505050" stroke-width="1.1"/>
<circle cx="131.80" cy="330.46" r="1.88" fill="#fff" stroke="#505050" stroke-width="1.1"/>
<circle cx="131.80" cy="332.66" r="1.88" fill="#fff" stroke="#505050" stroke-width="1.1"/>
<circle cx="131.80" cy="338.63" r="1.88" fill="#fff" stroke="#505050" stroke-width="1.1"/>
<circle cx="131.80" cy="340.83" r="1.88" fill="#fff" stroke="#505050" stroke-width="1.1"/>
<circle cx="131.80" cy="343.02" r="1.88" fill="#fff" stroke="#505050" stroke-width="1.1"/>
<circle cx="131.80" cy="345.22" r="1.88" fill="#fff" stroke="#505050" stroke-width="1.1"/>
<circle cx="131.80" cy="347.42" r="1.88" fill="#fff" stroke="#505050" stroke-width="1.1"/>
<circle cx="140.30" cy="286.36" r="1.88" fill="#fff" stroke="#505050" stroke-width="1.1"/>
<circle cx="140.30" cy="289.35" r="1.88" fill="#fff" stroke="#505050" stroke-width="1.1"/>
<circle cx="140.30" cy="292.33" r="1.88" fill="#fff" stroke="#505050" stroke-width="1.1"/>
<circle cx="140.30" cy="309.00" r="1.88" fill="#fff" stroke="#505050" stroke-width="1.1"/>
<circle cx="140.30" cy="311.03" r="1.88" fill="#fff" stroke="#505050" stroke-width="1.1"/>
<circle cx="140.30" cy="321.85" r="1.88" fill="#fff" stroke="#505050" stroke-width="1.1"/>
<circle cx="140.30" cy="334.69" r="1.88" fill="#fff" stroke="#505050" stroke-width="1.1"/>
<circle cx="140.30" cy="357.89" r="1.88" fill="#fff" stroke="#505050" stroke-width="1.1"/>
<circle cx="148.80" cy="272.06" r="1.88" fill="#fff" stroke="#505050" stroke-width="1.1"/>
<circle cx="148.80" cy="305.17" r="1.88" fill="#fff" stroke="#505050" stroke-width="1.1"/>
<circle cx="148.80" cy="312.05" r="1.88" fill="#fff" stroke="#505050" stroke-width="1.1"/>
<circle cx="148.80" cy="320.83" r="1.88" fill="#fff" stroke="#505050" stroke-width="1.1"/>
<circle cx="148.80" cy="326.80" r="1.88" fill="#fff" stroke="#505050" stroke-width="1.1"/>
<circle cx="148.80" cy="345.84" r="1.88" fill="#fff" stroke="#505050" stroke-width="1.1"/>
<circle cx="157.30" cy="290.30" r="1.88" fill="#fff" stroke="#505050" stroke-width="1.1"/>
<circle cx="157.30" cy="306.08" r="1.88" fill="#fff" stroke="#505050" stroke-width="1.1"/>
<circle cx="157.30" cy="309.00" r="1.88" fill="#fff" stroke="#505050" stroke-width="1.1"/>
<circle cx="157.30" cy="314.98" r="1.88" fill="#fff" stroke="#505050" stroke-width="1.1"/>
<circle cx="157.30" cy="317.27" r="1.88" fill="#fff" stroke="#505050" stroke-width="1.1"/>
<circle cx="157.30" cy="319.56" r="1.88" fill="#fff" stroke="#505050" stroke-width="1.1"/>
<circle cx="157.30" cy="321.85" r="1.88" fill="#fff" stroke="#505050" stroke-width="1.1"/>
<circle cx="157.30" cy="324.14" r="1.88" fill="#fff" stroke="#505050" stroke-width="1.1"/>
<circle cx="157.30" cy="326.43" r="1.88" fill="#fff" stroke="#505050" stroke-width="1.1"/>
<circle cx="157.30" cy="328.72" r="1.88" fill="#fff" stroke="#505050" stroke-width="1.1"/>
<circle cx="157.30" cy="332.66" r="1.88" fill="#fff" stroke="#505050" stroke-width="1.1"/>
<circle cx="157.30" cy="335.14" r="1.88" fill="#fff" stroke="#505050" stroke-width="1.1"/>
<circle cx="157.30" cy="337.62" r="1.88" fill="#fff" stroke="#505050" stroke-width="1.1"/>
<circle cx="157.30" cy="340.10" r="1.88" fill="#fff" stroke="#505050" stroke-width="1.1"/>
<circle cx="157.30" cy="342.57" r="1.88" fill="#fff" stroke="#505050" stroke-width="1.1"/>
<circle cx="157.30" cy="348.43" r="1.88" fill="#fff" stroke="#505050" stroke-width="1.1"/>
<circle cx="157.30" cy="360.26" r="1.88" fill="#fff" stroke="#505050" stroke-width="1.1"/>
<circle cx="157.30" cy="364.20" r="1.88" fill="#fff" stroke="#505050" stroke-width="1.1"/>
<circle cx="165.80" cy="295.71" r="1.88" fill="#fff" stroke="#505050" stroke-width="1.1"/>
<circle cx="165.80" cy="298.19" r="1.88" fill="#fff" stroke="#505050" stroke-width="1.1"/>
<circle cx="165.80" cy="304.72" r="1.88" fill="#fff" stroke="#505050" stroke-width="1.1"/>
<circle cx="165.80" cy="310.58" r="1.88" fill="#fff" stroke="#505050" stroke-width="1.1"/>
<circle cx="165.80" cy="316.55" r="1.88" fill="#fff" stroke="#505050" stroke-width="1.1"/>
<circle cx="165.80" cy="330.75" r="1.88" fill="#fff" stroke="#505050" stroke-width="1.1"/>
<circle cx="165.80" cy="354.40" r="1.88" fill="#fff" stroke="#505050" stroke-width="1.1"/>
<circle cx="165.80" cy="359.25" r="1.88" fill="#fff" stroke="#505050" stroke-width="1.1"/>
<circle cx="174.30" cy="313.96" r="1.88" fill="#fff" stroke="#505050" stroke-width="1.1"/>
<circle cx="174.30" cy="319.93" r="1.88" fill="#fff" stroke="#505050" stroke-width="1.1"/>
<circle cx="174.30" cy="323.87" r="1.88" fill="#fff" stroke="#505050" stroke-width="1.1"/>
<circle cx="174.30" cy="327.82" r="1.88" fill="#fff" stroke="#505050" stroke-width="1.1"/>
<circle cx="174.30" cy="334.69" r="1.88" fill="#fff" stroke="#505050" stroke-width="1.1"/>
<circle cx="174.30" cy="336.38" r="1.88" fill="#fff" stroke="#505050" stroke-width="1.1"/>
<circle cx="182.80" cy="320.83" r="1.88" fill="#fff" stroke="#505050" stroke-width="1.1"/>
<circle cx="182.80" cy="331.76" r="1.88" fill="#fff" stroke="#505050" stroke-width="1.1"/>
<circle cx="182.80" cy="338.97" r="1.88" fill="#fff" stroke="#505050" stroke-width="1.1"/>
<circle cx="182.80" cy="346.85" r="1.88" fill="#fff" stroke="#505050" stroke-width="1.1"/>
<circle cx="191.30" cy="291.32" r="1.88" fill="#fff" stroke="#505050" stroke-width="1.1"/>
<circle cx="191.30" cy="311.03" r="1.88" fill="#fff" stroke="#505050" stroke-width="1.1"/>
<circle cx="191.30" cy="329.73" r="1.88" fill="#fff" stroke="#505050" stroke-width="1.1"/>
<circle cx="191.30" cy="331.76" r="1.88" fill="#fff" stroke="#505050" stroke-width="1.1"/>
<circle cx="191.30" cy="344.49" r="1.88" fill="#fff" stroke="#505050" stroke-width="1.1"/>
<circle cx="191.30" cy="355.98" r="1.88" fill="#fff" stroke="#505050" stroke-width="1.1"/>
<circle cx="199.80" cy="324.44" r="1.88" fill="#fff" stroke="#505050" stroke-width="1.1"/>
<circle cx="199.80" cy="328.72" r="1.88" fill="#fff" stroke="#505050" stroke-width="1.1"/>
<circle cx="199.80" cy="331.01" r="1.88" fill="#fff" stroke="#505050" stroke-width="1.1"/>
<circle cx="199.80" cy="333.30" r="1.88" fill="#fff" stroke="#505050" stroke-width="1.1"/>
<circle cx="199.80" cy="335.59" r="1.88" fill="#fff" stroke="#505050" stroke-width="1.1"/>
<circle cx="199.80" cy="341.00" r="1.88" fill="#fff" stroke="#505050" stroke-width="1.1"/>
<circle cx="199.80" cy="354.40" r="1.88" fill="#fff" stroke="#505050" stroke-width="1.1"/>
<circle cx="199.80" cy="359.25" r="1.88" fill="#fff" stroke="#505050" stroke-width="1.1"/>
<circle cx="208.30" cy="313.96" r="1.88" fill="#fff" stroke="#505050" stroke-width="1.1"/>
<circle cx="208.30" cy="316.33" r="1.88" fill="#fff" stroke="#505050" stroke-width="1.1"/>
<circle cx="208.30" cy="318.69" r="1.88" fill="#fff" stroke="#505050" stroke-width="1.1"/>
<circle cx="208.30" cy="321.06" r="1.88" fill="#fff" stroke="#505050" stroke-width="1.1"/>
<circle cx="208.30" cy="323.42" r="1.88" fill="#fff" stroke="#505050" stroke-width="1.1"/>
<circle cx="208.30" cy="325.79" r="1.88" fill="#fff" stroke="#505050" stroke-width="1.1"/>
<circle cx="208.30" cy="337.62" r="1.88" fill="#fff" stroke="#505050" stroke-width="1.1"/>
<circle cx="208.30" cy="342.57" r="1.88" fill="#fff" stroke="#505050" stroke-width="1.1"/>
<circle cx="208.30" cy="346.85" r="1.88" fill="#fff" stroke="#505050" stroke-width="1.1"/>
<circle cx="216.80" cy="292.33" r="1.88" fill="#fff" stroke="#505050" stroke-width="1.1"/>
<circle cx="216.80" cy="296.28" r="1.88" fill="#fff" stroke="#505050" stroke-width="1.1"/>
<circle cx="216.80" cy="313.96" r="1.88" fill="#fff" stroke="#505050" stroke-width="1.1"/>
<circle cx="216.80" cy="323.20" r="1.88" fill="#fff" stroke="#505050" stroke-width="1.1"/>
<circle cx="216.80" cy="327.82" r="1.88" fill="#fff" stroke="#505050" stroke-width="1.1"/>
<circle cx="216.80" cy="337.62" r="1.88" fill="#fff" stroke="#505050" stroke-width="1.1"/>
<circle cx="216.80" cy="352.37" r="1.88" fill="#fff" stroke="#505050" stroke-width="1.1"/>
<circle cx="225.30" cy="340.21" r="1.88" fill="#fff" stroke="#505050" stroke-width="1.1"/>
<circle cx="242.30" cy="333.34" r="1.88" fill="#fff" stroke="#505050" stroke-width="1.1"/>
<rect x="78.85" y="271.68" width="3.9" height="25.53" fill="#000"/>
<circle cx="80.80" cy="273.63" r="1.88" fill="#fff" stroke="#505050" stroke-width="1.1"/>
<circle cx="80.80" cy="282.28" r="1.88" fill="#fff" stroke="#505050" stroke-width="1.1"/>
<circle cx="80.80" cy="286.61" r="1.88" fill="#fff" stroke="#505050" stroke-width="1.1"/>
<rect x="87.35" y="280.47" width="3.9" height="16.74" fill="#000"/>
<rect x="95.85" y="281.48" width="3.9" height="12.91" fill="#000"/>
<circle cx="97.80" cy="283.43" r="1.88" fill="#fff" stroke="#505050" stroke-width="1.1"/>
<circle cx="97.80" cy="292.44" r="1.88" fill="#fff" stroke="#505050" stroke-width="1.1"/>
<rect x="104.35" y="277.54" width="3.9" height="19.11" fill="#000"/>
<rect x="112.85" y="290.50" width="3.9" height="10.66" fill="#000"/>
<circle cx="114.80" cy="295.82" r="1.88" fill="#fff" stroke="#505050" stroke-width="1.1"/>
<circle cx="114.80" cy="299.20" r="1.88" fill="#fff" stroke="#505050" stroke-width="1.1"/>
<rect x="70.35" y="256.70" width="3.9" height="3.9" fill="#000"/>
<rect x="70.35" y="261.43" width="3.9" height="3.9" fill="#000"/>
<rect x="70.35" y="266.16" width="3.9" height="3.9" fill="#000"/>
<rect x="70.35" y="270.89" width="3.9" height="3.9" fill="#000"/>
<rect x="70.35" y="275.63" width="3.9" height="3.9" fill="#000"/>
<rect x="70.35" y="280.36" width="3.9" height="3.9" fill="#000"/>
<rect x="70.35" y="285.09" width="3.9" height="3.9" fill="#000"/>
<rect x="70.35" y="289.82" width="3.9" height="3.9" fill="#000"/>
<rect x="70.35" y="294.55" width="3.9" height="3.9" fill="#000"/>
<rect x="70.35" y="299.28" width="3.9" height="3.9" fill="#000"/>
<rect x="70.35" y="304.01" width="3.9" height="3.9" fill="#000"/>
<rect x="78.85" y="311.00" width="3.9" height="3.9" fill="#000"/>
<rect x="87.35" y="263.80" width="3.9" height="3.9" fill="#000"/>
<rect x="87.35" y="308.07" width="3.9" height="3.9" fill="#000"/>
<rect x="87.35" y="310.55" width="3.9" height="3.9" fill="#000"/>
<rect x="87.35" y="313.03" width="3.9" height="3.9" fill="#000"/>
<rect x="87.35" y="320.35" width="3.9" height="3.9" fill="#000"/>
<rect x="95.85" y="272.70" width="3.9" height="3.9" fill="#000"/>
<rect x="104.35" y="305.14" width="3.9" height="3.9" fill="#000"/>
<rect x="112.85" y="282.50" width="3.9" height="3.9" fill="#000"/>
<rect x="121.35" y="285.43" width="3.9" height="3.9" fill="#000"/>
<rect x="121.35" y="314.94" width="3.9" height="3.9" fill="#000"/>
<rect x="129.85" y="291.40" width="3.9" height="3.9" fill="#000"/>
<rect x="129.85" y="294.02" width="3.9" height="3.9" fill="#000"/>
<rect x="129.85" y="296.65" width="3.9" height="3.9" fill="#000"/>
<rect x="129.85" y="299.28" width="3.9" height="3.9" fill="#000"/>
<rect x="129.85" y="333.64" width="3.9" height="3.9" fill="#000"/>
<rect x="138.35" y="277.20" width="3.9" height="3.9" fill="#000"/>
<rect x="146.85" y="285.09" width="3.9" height="3.9" fill="#000"/>
<rect x="146.85" y="288.11" width="3.9" height="3.9" fill="#000"/>
<rect x="146.85" y="291.13" width="3.9" height="3.9" fill="#000"/>
<rect x="146.85" y="294.14" width="3.9" height="3.9" fill="#000"/>
<rect x="146.85" y="297.16" width="3.9" height="3.9" fill="#000"/>
<rect x="146.85" y="300.18" width="3.9" height="3.9" fill="#000"/>
<rect x="155.35" y="290.50" width="3.9" height="3.9" fill="#000"/>
<rect x="172.35" y="287.45" width="3.9" height="3.9" fill="#000"/>
<rect x="172.35" y="301.20" width="3.9" height="3.9" fill="#000"/>
<rect x="172.35" y="303.83" width="3.9" height="3.9" fill="#000"/>
<rect x="172.35" y="306.45" width="3.9" height="3.9" fill="#000"/>
<rect x="172.35" y="309.08" width="3.9" height="3.9" fill="#000"/>
<rect x="180.85" y="294.33" width="3.9" height="3.9" fill="#000"/>
<rect x="180.85" y="298.83" width="3.9" height="3.9" fill="#000"/>
<rect x="180.85" y="305.14" width="3.9" height="3.9" fill="#000"/>
<rect x="180.85" y="308.07" width="3.9" height="3.9" fill="#000"/>
<rect x="180.85" y="323.28" width="3.9" height="3.9" fill="#000"/>
<rect x="197.85" y="285.09" width="3.9" height="3.9" fill="#000"/>
<path d="M72.30,283.43 L199.80,308.10" fill="none" stroke="#a82338" stroke-width="1.3"/>
<path d="M72.30,293.68 L242.30,341.11" fill="none" stroke="#3c5a8c" stroke-width="1.3"/>
<line x1="72.3" y1="254.5" x2="72.3" y2="376.3" stroke="#231f20" stroke-width="1.2"/>
<line x1="67.3" y1="371.3" x2="247.3" y2="371.3" stroke="#231f20" stroke-width="1.2"/>
<line x1="67.3" y1="371.30" x2="72.3" y2="371.30" stroke="#231f20" stroke-width="1.1"/>
<text x="63.10" y="374.60" font-size="9.0" letter-spacing="-0.2" text-anchor="end" fill="#383838">0</text>
<line x1="67.3" y1="348.77" x2="72.3" y2="348.77" stroke="#231f20" stroke-width="1.1"/>
<text x="63.10" y="352.07" font-size="9.0" letter-spacing="-0.2" text-anchor="end" fill="#383838">20</text>
<line x1="67.3" y1="326.24" x2="72.3" y2="326.24" stroke="#231f20" stroke-width="1.1"/>
<text x="63.10" y="329.54" font-size="9.0" letter-spacing="-0.2" text-anchor="end" fill="#383838">40</text>
<line x1="67.3" y1="303.71" x2="72.3" y2="303.71" stroke="#231f20" stroke-width="1.1"/>
<text x="63.10" y="307.01" font-size="9.0" letter-spacing="-0.2" text-anchor="end" fill="#383838">60</text>
<line x1="67.3" y1="281.18" x2="72.3" y2="281.18" stroke="#231f20" stroke-width="1.1"/>
<text x="63.10" y="284.48" font-size="9.0" letter-spacing="-0.2" text-anchor="end" fill="#383838">80</text>
<line x1="67.3" y1="258.65" x2="72.3" y2="258.65" stroke="#231f20" stroke-width="1.1"/>
<text x="63.10" y="261.95" font-size="9.0" letter-spacing="-0.2" text-anchor="end" fill="#383838">100</text>
<line x1="72.30" y1="371.3" x2="72.30" y2="376.3" stroke="#231f20" stroke-width="1.1"/>
<text x="72.30" y="387.8" font-size="9.2" letter-spacing="-0.25" text-anchor="middle" fill="#383838">0</text>
<line x1="89.30" y1="371.3" x2="89.30" y2="376.3" stroke="#231f20" stroke-width="1.1"/>
<text x="89.30" y="387.8" font-size="9.2" letter-spacing="-0.25" text-anchor="middle" fill="#383838">2</text>
<line x1="106.30" y1="371.3" x2="106.30" y2="376.3" stroke="#231f20" stroke-width="1.1"/>
<text x="106.30" y="387.8" font-size="9.2" letter-spacing="-0.25" text-anchor="middle" fill="#383838">4</text>
<line x1="123.30" y1="371.3" x2="123.30" y2="376.3" stroke="#231f20" stroke-width="1.1"/>
<text x="123.30" y="387.8" font-size="9.2" letter-spacing="-0.25" text-anchor="middle" fill="#383838">6</text>
<line x1="140.30" y1="371.3" x2="140.30" y2="376.3" stroke="#231f20" stroke-width="1.1"/>
<text x="140.30" y="387.8" font-size="9.2" letter-spacing="-0.25" text-anchor="middle" fill="#383838">8</text>
<line x1="157.30" y1="371.3" x2="157.30" y2="376.3" stroke="#231f20" stroke-width="1.1"/>
<text x="157.30" y="387.8" font-size="9.2" letter-spacing="-0.25" text-anchor="middle" fill="#383838">10</text>
<line x1="174.30" y1="371.3" x2="174.30" y2="376.3" stroke="#231f20" stroke-width="1.1"/>
<text x="174.30" y="387.8" font-size="9.2" letter-spacing="-0.25" text-anchor="middle" fill="#383838">12</text>
<line x1="191.30" y1="371.3" x2="191.30" y2="376.3" stroke="#231f20" stroke-width="1.1"/>
<text x="191.30" y="387.8" font-size="9.2" letter-spacing="-0.25" text-anchor="middle" fill="#383838">14</text>
<line x1="208.30" y1="371.3" x2="208.30" y2="376.3" stroke="#231f20" stroke-width="1.1"/>
<text x="208.30" y="387.8" font-size="9.2" letter-spacing="-0.25" text-anchor="middle" fill="#383838">16</text>
<line x1="225.30" y1="371.3" x2="225.30" y2="376.3" stroke="#231f20" stroke-width="1.1"/>
<text x="225.30" y="387.8" font-size="9.2" letter-spacing="-0.25" text-anchor="middle" fill="#383838">18</text>
<line x1="242.30" y1="371.3" x2="242.30" y2="376.3" stroke="#231f20" stroke-width="1.1"/>
<text x="242.30" y="387.8" font-size="9.2" letter-spacing="-0.25" text-anchor="middle" fill="#383838">20</text>
<text x="160.0" y="405.5" font-size="11.8" text-anchor="middle" fill="#383838">Age (years)</text>
<text transform="translate(23.0,313.7) rotate(-90)" x="0" y="0" font-size="12.2" text-anchor="middle" fill="#383838">CD4+CD45RA+CD27+</text>
<text transform="translate(37.0,313.7) rotate(-90)" x="0" y="0" font-size="12.2" text-anchor="middle" fill="#383838">(%)</text>
<text transform="translate(12.2,237.4) scale(1.0,1)" x="0" y="0" font-size="16.6" fill="#383838">C</text>
<circle cx="341.60" cy="278.47" r="1.88" fill="#fff" stroke="#505050" stroke-width="1.1"/>
<circle cx="341.60" cy="297.24" r="1.88" fill="#fff" stroke="#505050" stroke-width="1.1"/>
<circle cx="341.60" cy="309.00" r="1.88" fill="#fff" stroke="#505050" stroke-width="1.1"/>
<circle cx="341.60" cy="311.38" r="1.88" fill="#fff" stroke="#505050" stroke-width="1.1"/>
<circle cx="341.60" cy="313.75" r="1.88" fill="#fff" stroke="#505050" stroke-width="1.1"/>
<circle cx="341.60" cy="316.13" r="1.88" fill="#fff" stroke="#505050" stroke-width="1.1"/>
<circle cx="341.60" cy="318.50" r="1.88" fill="#fff" stroke="#505050" stroke-width="1.1"/>
<circle cx="341.60" cy="320.88" r="1.88" fill="#fff" stroke="#505050" stroke-width="1.1"/>
<circle cx="341.60" cy="325.74" r="1.88" fill="#fff" stroke="#505050" stroke-width="1.1"/>
<circle cx="341.60" cy="327.91" r="1.88" fill="#fff" stroke="#505050" stroke-width="1.1"/>
<circle cx="341.60" cy="330.09" r="1.88" fill="#fff" stroke="#505050" stroke-width="1.1"/>
<circle cx="341.60" cy="332.26" r="1.88" fill="#fff" stroke="#505050" stroke-width="1.1"/>
<circle cx="341.60" cy="334.43" r="1.88" fill="#fff" stroke="#505050" stroke-width="1.1"/>
<circle cx="341.60" cy="336.60" r="1.88" fill="#fff" stroke="#505050" stroke-width="1.1"/>
<circle cx="341.60" cy="370.08" r="1.88" fill="#fff" stroke="#505050" stroke-width="1.1"/>
<circle cx="350.10" cy="287.97" r="1.88" fill="#fff" stroke="#505050" stroke-width="1.1"/>
<circle cx="350.10" cy="318.84" r="1.88" fill="#fff" stroke="#505050" stroke-width="1.1"/>
<circle cx="350.10" cy="321.30" r="1.88" fill="#fff" stroke="#505050" stroke-width="1.1"/>
<circle cx="350.10" cy="323.76" r="1.88" fill="#fff" stroke="#505050" stroke-width="1.1"/>
<circle cx="350.10" cy="326.22" r="1.88" fill="#fff" stroke="#505050" stroke-width="1.1"/>
<circle cx="350.10" cy="328.68" r="1.88" fill="#fff" stroke="#505050" stroke-width="1.1"/>
<circle cx="350.10" cy="354.92" r="1.88" fill="#fff" stroke="#505050" stroke-width="1.1"/>
<circle cx="350.10" cy="369.51" r="1.88" fill="#fff" stroke="#505050" stroke-width="1.1"/>
<circle cx="358.60" cy="302.10" r="1.88" fill="#fff" stroke="#505050" stroke-width="1.1"/>
<circle cx="358.60" cy="307.08" r="1.88" fill="#fff" stroke="#505050" stroke-width="1.1"/>
<circle cx="358.60" cy="314.88" r="1.88" fill="#fff" stroke="#505050" stroke-width="1.1"/>
<circle cx="358.60" cy="319.86" r="1.88" fill="#fff" stroke="#505050" stroke-width="1.1"/>
<circle cx="358.60" cy="332.64" r="1.88" fill="#fff" stroke="#505050" stroke-width="1.1"/>
<circle cx="358.60" cy="335.10" r="1.88" fill="#fff" stroke="#505050" stroke-width="1.1"/>
<circle cx="358.60" cy="337.56" r="1.88" fill="#fff" stroke="#505050" stroke-width="1.1"/>
<circle cx="358.60" cy="340.02" r="1.88" fill="#fff" stroke="#505050" stroke-width="1.1"/>
<circle cx="358.60" cy="342.48" r="1.88" fill="#fff" stroke="#505050" stroke-width="1.1"/>
<circle cx="367.10" cy="286.95" r="1.88" fill="#fff" stroke="#505050" stroke-width="1.1"/>
<circle cx="367.10" cy="296.22" r="1.88" fill="#fff" stroke="#505050" stroke-width="1.1"/>
<circle cx="367.10" cy="303.12" r="1.88" fill="#fff" stroke="#505050" stroke-width="1.1"/>
<circle cx="367.10" cy="305.37" r="1.88" fill="#fff" stroke="#505050" stroke-width="1.1"/>
<circle cx="367.10" cy="307.61" r="1.88" fill="#fff" stroke="#505050" stroke-width="1.1"/>
<circle cx="367.10" cy="309.86" r="1.88" fill="#fff" stroke="#505050" stroke-width="1.1"/>
<circle cx="367.10" cy="312.11" r="1.88" fill="#fff" stroke="#505050" stroke-width="1.1"/>
<circle cx="367.10" cy="314.35" r="1.88" fill="#fff" stroke="#505050" stroke-width="1.1"/>
<circle cx="367.10" cy="316.60" r="1.88" fill="#fff" stroke="#505050" stroke-width="1.1"/>
<circle cx="367.10" cy="318.84" r="1.88" fill="#fff" stroke="#505050" stroke-width="1.1"/>
<circle cx="367.10" cy="327.78" r="1.88" fill="#fff" stroke="#505050" stroke-width="1.1"/>
<circle cx="367.10" cy="331.62" r="1.88" fill="#fff" stroke="#505050" stroke-width="1.1"/>
<circle cx="367.10" cy="334.08" r="1.88" fill="#fff" stroke="#505050" stroke-width="1.1"/>
<circle cx="367.10" cy="336.54" r="1.88" fill="#fff" stroke="#505050" stroke-width="1.1"/>
<circle cx="367.10" cy="339.00" r="1.88" fill="#fff" stroke="#505050" stroke-width="1.1"/>
<circle cx="367.10" cy="341.46" r="1.88" fill="#fff" stroke="#505050" stroke-width="1.1"/>
<circle cx="367.10" cy="350.40" r="1.88" fill="#fff" stroke="#505050" stroke-width="1.1"/>
<circle cx="367.10" cy="353.90" r="1.88" fill="#fff" stroke="#505050" stroke-width="1.1"/>
<circle cx="367.10" cy="366.12" r="1.88" fill="#fff" stroke="#505050" stroke-width="1.1"/>
<circle cx="375.60" cy="298.15" r="1.88" fill="#fff" stroke="#505050" stroke-width="1.1"/>
<circle cx="375.60" cy="312.96" r="1.88" fill="#fff" stroke="#505050" stroke-width="1.1"/>
<circle cx="375.60" cy="315.45" r="1.88" fill="#fff" stroke="#505050" stroke-width="1.1"/>
<circle cx="375.60" cy="317.94" r="1.88" fill="#fff" stroke="#505050" stroke-width="1.1"/>
<circle cx="375.60" cy="328.68" r="1.88" fill="#fff" stroke="#505050" stroke-width="1.1"/>
<circle cx="375.60" cy="330.66" r="1.88" fill="#fff" stroke="#505050" stroke-width="1.1"/>
<circle cx="375.60" cy="332.64" r="1.88" fill="#fff" stroke="#505050" stroke-width="1.1"/>
<circle cx="384.10" cy="311.04" r="1.88" fill="#fff" stroke="#505050" stroke-width="1.1"/>
<circle cx="384.10" cy="319.86" r="1.88" fill="#fff" stroke="#505050" stroke-width="1.1"/>
<circle cx="384.10" cy="336.60" r="1.88" fill="#fff" stroke="#505050" stroke-width="1.1"/>
<circle cx="392.60" cy="291.70" r="1.88" fill="#fff" stroke="#505050" stroke-width="1.1"/>
<circle cx="392.60" cy="294.07" r="1.88" fill="#fff" stroke="#505050" stroke-width="1.1"/>
<circle cx="392.60" cy="296.45" r="1.88" fill="#fff" stroke="#505050" stroke-width="1.1"/>
<circle cx="392.60" cy="298.82" r="1.88" fill="#fff" stroke="#505050" stroke-width="1.1"/>
<circle cx="392.60" cy="301.20" r="1.88" fill="#fff" stroke="#505050" stroke-width="1.1"/>
<circle cx="392.60" cy="307.08" r="1.88" fill="#fff" stroke="#505050" stroke-width="1.1"/>
<circle cx="392.60" cy="312.96" r="1.88" fill="#fff" stroke="#505050" stroke-width="1.1"/>
<circle cx="392.60" cy="314.88" r="1.88" fill="#fff" stroke="#505050" stroke-width="1.1"/>
<circle cx="392.60" cy="325.74" r="1.88" fill="#fff" stroke="#505050" stroke-width="1.1"/>
<circle cx="392.60" cy="327.91" r="1.88" fill="#fff" stroke="#505050" stroke-width="1.1"/>
<circle cx="392.60" cy="330.09" r="1.88" fill="#fff" stroke="#505050" stroke-width="1.1"/>
<circle cx="392.60" cy="332.26" r="1.88" fill="#fff" stroke="#505050" stroke-width="1.1"/>
<circle cx="392.60" cy="334.43" r="1.88" fill="#fff" stroke="#505050" stroke-width="1.1"/>
<circle cx="392.60" cy="336.60" r="1.88" fill="#fff" stroke="#505050" stroke-width="1.1"/>
<circle cx="392.60" cy="339.54" r="1.88" fill="#fff" stroke="#505050" stroke-width="1.1"/>
<circle cx="401.10" cy="278.13" r="1.88" fill="#fff" stroke="#505050" stroke-width="1.1"/>
<circle cx="401.10" cy="300.75" r="1.88" fill="#fff" stroke="#505050" stroke-width="1.1"/>
<circle cx="401.10" cy="320.88" r="1.88" fill="#fff" stroke="#505050" stroke-width="1.1"/>
<circle cx="401.10" cy="323.82" r="1.88" fill="#fff" stroke="#505050" stroke-width="1.1"/>
<circle cx="401.10" cy="326.76" r="1.88" fill="#fff" stroke="#505050" stroke-width="1.1"/>
<circle cx="401.10" cy="337.62" r="1.88" fill="#fff" stroke="#505050" stroke-width="1.1"/>
<circle cx="401.10" cy="339.54" r="1.88" fill="#fff" stroke="#505050" stroke-width="1.1"/>
<circle cx="401.10" cy="341.46" r="1.88" fill="#fff" stroke="#505050" stroke-width="1.1"/>
<circle cx="409.60" cy="297.24" r="1.88" fill="#fff" stroke="#505050" stroke-width="1.1"/>
<circle cx="409.60" cy="311.38" r="1.88" fill="#fff" stroke="#505050" stroke-width="1.1"/>
<circle cx="409.60" cy="313.75" r="1.88" fill="#fff" stroke="#505050" stroke-width="1.1"/>
<circle cx="409.60" cy="316.13" r="1.88" fill="#fff" stroke="#505050" stroke-width="1.1"/>
<circle cx="409.60" cy="318.50" r="1.88" fill="#fff" stroke="#505050" stroke-width="1.1"/>
<circle cx="409.60" cy="320.88" r="1.88" fill="#fff" stroke="#505050" stroke-width="1.1"/>
<circle cx="409.60" cy="325.74" r="1.88" fill="#fff" stroke="#505050" stroke-width="1.1"/>
<circle cx="409.60" cy="328.04" r="1.88" fill="#fff" stroke="#505050" stroke-width="1.1"/>
<circle cx="409.60" cy="330.34" r="1.88" fill="#fff" stroke="#505050" stroke-width="1.1"/>
<circle cx="409.60" cy="332.64" r="1.88" fill="#fff" stroke="#505050" stroke-width="1.1"/>
<circle cx="409.60" cy="365.10" r="1.88" fill="#fff" stroke="#505050" stroke-width="1.1"/>
<circle cx="418.10" cy="274.62" r="1.88" fill="#fff" stroke="#505050" stroke-width="1.1"/>
<circle cx="418.10" cy="285.03" r="1.88" fill="#fff" stroke="#505050" stroke-width="1.1"/>
<circle cx="418.10" cy="294.30" r="1.88" fill="#fff" stroke="#505050" stroke-width="1.1"/>
<circle cx="418.10" cy="302.78" r="1.88" fill="#fff" stroke="#505050" stroke-width="1.1"/>
<circle cx="418.10" cy="305.08" r="1.88" fill="#fff" stroke="#505050" stroke-width="1.1"/>
<circle cx="418.10" cy="307.37" r="1.88" fill="#fff" stroke="#505050" stroke-width="1.1"/>
<circle cx="418.10" cy="309.67" r="1.88" fill="#fff" stroke="#505050" stroke-width="1.1"/>
<circle cx="418.10" cy="311.96" r="1.88" fill="#fff" stroke="#505050" stroke-width="1.1"/>
<circle cx="418.10" cy="314.25" r="1.88" fill="#fff" stroke="#505050" stroke-width="1.1"/>
<circle cx="418.10" cy="316.55" r="1.88" fill="#fff" stroke="#505050" stroke-width="1.1"/>
<circle cx="418.10" cy="318.84" r="1.88" fill="#fff" stroke="#505050" stroke-width="1.1"/>
<circle cx="418.10" cy="324.72" r="1.88" fill="#fff" stroke="#505050" stroke-width="1.1"/>
<circle cx="418.10" cy="327.36" r="1.88" fill="#fff" stroke="#505050" stroke-width="1.1"/>
<circle cx="418.10" cy="330.00" r="1.88" fill="#fff" stroke="#505050" stroke-width="1.1"/>
<circle cx="418.10" cy="332.64" r="1.88" fill="#fff" stroke="#505050" stroke-width="1.1"/>
<circle cx="426.60" cy="280.50" r="1.88" fill="#fff" stroke="#505050" stroke-width="1.1"/>
<circle cx="426.60" cy="300.75" r="1.88" fill="#fff" stroke="#505050" stroke-width="1.1"/>
<circle cx="426.60" cy="302.10" r="1.88" fill="#fff" stroke="#505050" stroke-width="1.1"/>
<circle cx="426.60" cy="318.50" r="1.88" fill="#fff" stroke="#505050" stroke-width="1.1"/>
<circle cx="426.60" cy="324.72" r="1.88" fill="#fff" stroke="#505050" stroke-width="1.1"/>
<circle cx="426.60" cy="326.70" r="1.88" fill="#fff" stroke="#505050" stroke-width="1.1"/>
<circle cx="426.60" cy="328.68" r="1.88" fill="#fff" stroke="#505050" stroke-width="1.1"/>
<circle cx="426.60" cy="333.66" r="1.88" fill="#fff" stroke="#505050" stroke-width="1.1"/>
<circle cx="426.60" cy="338.52" r="1.88" fill="#fff" stroke="#505050" stroke-width="1.1"/>
<circle cx="435.10" cy="297.24" r="1.88" fill="#fff" stroke="#505050" stroke-width="1.1"/>
<circle cx="435.10" cy="300.18" r="1.88" fill="#fff" stroke="#505050" stroke-width="1.1"/>
<circle cx="435.10" cy="306.06" r="1.88" fill="#fff" stroke="#505050" stroke-width="1.1"/>
<circle cx="435.10" cy="315.90" r="1.88" fill="#fff" stroke="#505050" stroke-width="1.1"/>
<circle cx="435.10" cy="318.39" r="1.88" fill="#fff" stroke="#505050" stroke-width="1.1"/>
<circle cx="435.10" cy="320.88" r="1.88" fill="#fff" stroke="#505050" stroke-width="1.1"/>
<circle cx="435.10" cy="323.82" r="1.88" fill="#fff" stroke="#505050" stroke-width="1.1"/>
<circle cx="435.10" cy="326.02" r="1.88" fill="#fff" stroke="#505050" stroke-width="1.1"/>
<circle cx="435.10" cy="328.23" r="1.88" fill="#fff" stroke="#505050" stroke-width="1.1"/>
<circle cx="435.10" cy="330.44" r="1.88" fill="#fff" stroke="#505050" stroke-width="1.1"/>
<circle cx="435.10" cy="332.64" r="1.88" fill="#fff" stroke="#505050" stroke-width="1.1"/>
<circle cx="435.10" cy="343.73" r="1.88" fill="#fff" stroke="#505050" stroke-width="1.1"/>
<circle cx="443.60" cy="299.16" r="1.88" fill="#fff" stroke="#505050" stroke-width="1.1"/>
<circle cx="443.60" cy="305.50" r="1.88" fill="#fff" stroke="#505050" stroke-width="1.1"/>
<circle cx="443.60" cy="311.04" r="1.88" fill="#fff" stroke="#505050" stroke-width="1.1"/>
<circle cx="443.60" cy="313.98" r="1.88" fill="#fff" stroke="#505050" stroke-width="1.1"/>
<circle cx="443.60" cy="324.38" r="1.88" fill="#fff" stroke="#505050" stroke-width="1.1"/>
<circle cx="452.10" cy="280.50" r="1.88" fill="#fff" stroke="#505050" stroke-width="1.1"/>
<circle cx="452.10" cy="286.04" r="1.88" fill="#fff" stroke="#505050" stroke-width="1.1"/>
<circle cx="452.10" cy="302.78" r="1.88" fill="#fff" stroke="#505050" stroke-width="1.1"/>
<circle cx="452.10" cy="305.50" r="1.88" fill="#fff" stroke="#505050" stroke-width="1.1"/>
<circle cx="452.10" cy="325.40" r="1.88" fill="#fff" stroke="#505050" stroke-width="1.1"/>
<circle cx="452.10" cy="330.72" r="1.88" fill="#fff" stroke="#505050" stroke-width="1.1"/>
<circle cx="460.60" cy="279.48" r="1.88" fill="#fff" stroke="#505050" stroke-width="1.1"/>
<circle cx="460.60" cy="294.30" r="1.88" fill="#fff" stroke="#505050" stroke-width="1.1"/>
<circle cx="460.60" cy="301.54" r="1.88" fill="#fff" stroke="#505050" stroke-width="1.1"/>
<circle cx="460.60" cy="302.78" r="1.88" fill="#fff" stroke="#505050" stroke-width="1.1"/>
<circle cx="460.60" cy="307.42" r="1.88" fill="#fff" stroke="#505050" stroke-width="1.1"/>
<circle cx="460.60" cy="312.96" r="1.88" fill="#fff" stroke="#505050" stroke-width="1.1"/>
<circle cx="460.60" cy="317.94" r="1.88" fill="#fff" stroke="#505050" stroke-width="1.1"/>
<circle cx="460.60" cy="335.58" r="1.88" fill="#fff" stroke="#505050" stroke-width="1.1"/>
<circle cx="469.10" cy="304.14" r="1.88" fill="#fff" stroke="#505050" stroke-width="1.1"/>
<circle cx="469.10" cy="305.04" r="1.88" fill="#fff" stroke="#505050" stroke-width="1.1"/>
<circle cx="469.10" cy="309.00" r="1.88" fill="#fff" stroke="#505050" stroke-width="1.1"/>
<circle cx="469.10" cy="311.38" r="1.88" fill="#fff" stroke="#505050" stroke-width="1.1"/>
<circle cx="469.10" cy="313.75" r="1.88" fill="#fff" stroke="#505050" stroke-width="1.1"/>
<circle cx="469.10" cy="316.13" r="1.88" fill="#fff" stroke="#505050" stroke-width="1.1"/>
<circle cx="469.10" cy="318.50" r="1.88" fill="#fff" stroke="#505050" stroke-width="1.1"/>
<circle cx="469.10" cy="330.72" r="1.88" fill="#fff" stroke="#505050" stroke-width="1.1"/>
<circle cx="469.10" cy="335.02" r="1.88" fill="#fff" stroke="#505050" stroke-width="1.1"/>
<circle cx="477.60" cy="299.62" r="1.88" fill="#fff" stroke="#505050" stroke-width="1.1"/>
<circle cx="477.60" cy="308.66" r="1.88" fill="#fff" stroke="#505050" stroke-width="1.1"/>
<circle cx="477.60" cy="321.22" r="1.88" fill="#fff" stroke="#505050" stroke-width="1.1"/>
<circle cx="477.60" cy="323.82" r="1.88" fill="#fff" stroke="#505050" stroke-width="1.1"/>
<circle cx="477.60" cy="336.03" r="1.88" fill="#fff" stroke="#505050" stroke-width="1.1"/>
<circle cx="477.60" cy="344.06" r="1.88" fill="#fff" stroke="#505050" stroke-width="1.1"/>
<circle cx="477.60" cy="346.78" r="1.88" fill="#fff" stroke="#505050" stroke-width="1.1"/>
<circle cx="486.10" cy="298.15" r="1.88" fill="#fff" stroke="#505050" stroke-width="1.1"/>
<circle cx="503.10" cy="302.10" r="1.88" fill="#fff" stroke="#505050" stroke-width="1.1"/>
<rect x="331.15" y="323.68" width="3.9" height="50.27" fill="#000"/>
<circle cx="333.10" cy="325.63" r="1.88" fill="#fff" stroke="#505050" stroke-width="1.1"/>
<circle cx="333.10" cy="338.28" r="1.88" fill="#fff" stroke="#505050" stroke-width="1.1"/>
<circle cx="333.10" cy="350.92" r="1.88" fill="#fff" stroke="#505050" stroke-width="1.1"/>
<circle cx="333.10" cy="359.35" r="1.88" fill="#fff" stroke="#505050" stroke-width="1.1"/>
<circle cx="333.10" cy="363.57" r="1.88" fill="#fff" stroke="#505050" stroke-width="1.1"/>
<circle cx="333.10" cy="367.78" r="1.88" fill="#fff" stroke="#505050" stroke-width="1.1"/>
<rect x="339.65" y="336.57" width="3.9" height="19.73" fill="#000"/>
<circle cx="341.60" cy="350.40" r="1.88" fill="#fff" stroke="#505050" stroke-width="1.1"/>
<rect x="348.15" y="330.69" width="3.9" height="19.62" fill="#000"/>
<rect x="339.65" y="355.35" width="3.9" height="3.9" fill="#000"/>
<rect x="348.15" y="309.43" width="3.9" height="3.9" fill="#000"/>
<rect x="348.15" y="364.17" width="3.9" height="3.9" fill="#000"/>
<rect x="356.65" y="329.11" width="3.9" height="3.9" fill="#000"/>
<rect x="356.65" y="346.41" width="3.9" height="3.9" fill="#000"/>
<rect x="356.65" y="355.35" width="3.9" height="3.9" fill="#000"/>
<rect x="373.65" y="305.13" width="3.9" height="3.9" fill="#000"/>
<rect x="373.65" y="323.79" width="3.9" height="3.9" fill="#000"/>
<rect x="373.65" y="336.23" width="3.9" height="3.9" fill="#000"/>
<rect x="373.65" y="344.49" width="3.9" height="3.9" fill="#000"/>
<rect x="373.65" y="347.43" width="3.9" height="3.9" fill="#000"/>
<rect x="373.65" y="350.37" width="3.9" height="3.9" fill="#000"/>
<rect x="382.15" y="327.19" width="3.9" height="3.9" fill="#000"/>
<rect x="382.15" y="345.51" width="3.9" height="3.9" fill="#000"/>
<rect x="382.15" y="349.35" width="3.9" height="3.9" fill="#000"/>
<rect x="390.65" y="329.67" width="3.9" height="3.9" fill="#000"/>
<rect x="390.65" y="342.91" width="3.9" height="3.9" fill="#000"/>
<rect x="399.15" y="304.68" width="3.9" height="3.9" fill="#000"/>
<rect x="399.15" y="330.35" width="3.9" height="3.9" fill="#000"/>
<rect x="407.65" y="340.53" width="3.9" height="3.9" fill="#000"/>
<rect x="407.65" y="342.57" width="3.9" height="3.9" fill="#000"/>
<rect x="407.65" y="349.35" width="3.9" height="3.9" fill="#000"/>
<rect x="416.15" y="330.47" width="3.9" height="3.9" fill="#000"/>
<rect x="416.15" y="338.61" width="3.9" height="3.9" fill="#000"/>
<rect x="416.15" y="341.55" width="3.9" height="3.9" fill="#000"/>
<rect x="416.15" y="344.49" width="3.9" height="3.9" fill="#000"/>
<rect x="424.65" y="341.55" width="3.9" height="3.9" fill="#000"/>
<rect x="441.65" y="328.77" width="3.9" height="3.9" fill="#000"/>
<rect x="441.65" y="330.92" width="3.9" height="3.9" fill="#000"/>
<rect x="441.65" y="333.07" width="3.9" height="3.9" fill="#000"/>
<rect x="441.65" y="340.53" width="3.9" height="3.9" fill="#000"/>
<rect x="450.15" y="307.51" width="3.9" height="3.9" fill="#000"/>
<rect x="450.15" y="334.65" width="3.9" height="3.9" fill="#000"/>
<rect x="450.15" y="338.61" width="3.9" height="3.9" fill="#000"/>
<rect x="450.15" y="340.53" width="3.9" height="3.9" fill="#000"/>
<rect x="467.15" y="347.43" width="3.9" height="3.9" fill="#000"/>
<path d="M333.10,349.38 L469.10,330.72" fill="none" stroke="#a82338" stroke-width="1.3"/>
<path d="M333.10,338.97 L503.10,302.10" fill="none" stroke="#3c5a8c" stroke-width="1.3"/>
<line x1="333.1" y1="255.1" x2="333.1" y2="377.0" stroke="#231f20" stroke-width="1.2"/>
<line x1="328.1" y1="372.0" x2="508.0" y2="372.0" stroke="#231f20" stroke-width="1.2"/>
<line x1="328.1" y1="372.00" x2="333.1" y2="372.00" stroke="#231f20" stroke-width="1.1"/>
<text x="323.90" y="375.30" font-size="9.0" letter-spacing="-0.2" text-anchor="end" fill="#383838">0</text>
<line x1="328.1" y1="349.38" x2="333.1" y2="349.38" stroke="#231f20" stroke-width="1.1"/>
<text x="323.90" y="352.68" font-size="9.0" letter-spacing="-0.2" text-anchor="end" fill="#383838">20</text>
<line x1="328.1" y1="326.76" x2="333.1" y2="326.76" stroke="#231f20" stroke-width="1.1"/>
<text x="323.90" y="330.06" font-size="9.0" letter-spacing="-0.2" text-anchor="end" fill="#383838">40</text>
<line x1="328.1" y1="304.14" x2="333.1" y2="304.14" stroke="#231f20" stroke-width="1.1"/>
<text x="323.90" y="307.44" font-size="9.0" letter-spacing="-0.2" text-anchor="end" fill="#383838">60</text>
<line x1="328.1" y1="281.52" x2="333.1" y2="281.52" stroke="#231f20" stroke-width="1.1"/>
<text x="323.90" y="284.82" font-size="9.0" letter-spacing="-0.2" text-anchor="end" fill="#383838">80</text>
<line x1="328.1" y1="258.90" x2="333.1" y2="258.90" stroke="#231f20" stroke-width="1.1"/>
<text x="323.90" y="262.20" font-size="9.0" letter-spacing="-0.2" text-anchor="end" fill="#383838">100</text>
<line x1="333.10" y1="372.0" x2="333.10" y2="377.0" stroke="#231f20" stroke-width="1.1"/>
<text x="333.10" y="389.7" font-size="9.2" letter-spacing="-0.25" text-anchor="middle" fill="#383838">0</text>
<line x1="350.10" y1="372.0" x2="350.10" y2="377.0" stroke="#231f20" stroke-width="1.1"/>
<text x="350.10" y="389.7" font-size="9.2" letter-spacing="-0.25" text-anchor="middle" fill="#383838">2</text>
<line x1="367.10" y1="372.0" x2="367.10" y2="377.0" stroke="#231f20" stroke-width="1.1"/>
<text x="367.10" y="389.7" font-size="9.2" letter-spacing="-0.25" text-anchor="middle" fill="#383838">4</text>
<line x1="384.10" y1="372.0" x2="384.10" y2="377.0" stroke="#231f20" stroke-width="1.1"/>
<text x="384.10" y="389.7" font-size="9.2" letter-spacing="-0.25" text-anchor="middle" fill="#383838">6</text>
<line x1="401.10" y1="372.0" x2="401.10" y2="377.0" stroke="#231f20" stroke-width="1.1"/>
<text x="401.10" y="389.7" font-size="9.2" letter-spacing="-0.25" text-anchor="middle" fill="#383838">8</text>
<line x1="418.10" y1="372.0" x2="418.10" y2="377.0" stroke="#231f20" stroke-width="1.1"/>
<text x="418.10" y="389.7" font-size="9.2" letter-spacing="-0.25" text-anchor="middle" fill="#383838">10</text>
<line x1="435.10" y1="372.0" x2="435.10" y2="377.0" stroke="#231f20" stroke-width="1.1"/>
<text x="435.10" y="389.7" font-size="9.2" letter-spacing="-0.25" text-anchor="middle" fill="#383838">12</text>
<line x1="452.10" y1="372.0" x2="452.10" y2="377.0" stroke="#231f20" stroke-width="1.1"/>
<text x="452.10" y="389.7" font-size="9.2" letter-spacing="-0.25" text-anchor="middle" fill="#383838">14</text>
<line x1="469.10" y1="372.0" x2="469.10" y2="377.0" stroke="#231f20" stroke-width="1.1"/>
<text x="469.10" y="389.7" font-size="9.2" letter-spacing="-0.25" text-anchor="middle" fill="#383838">16</text>
<line x1="486.10" y1="372.0" x2="486.10" y2="377.0" stroke="#231f20" stroke-width="1.1"/>
<text x="486.10" y="389.7" font-size="9.2" letter-spacing="-0.25" text-anchor="middle" fill="#383838">18</text>
<line x1="503.10" y1="372.0" x2="503.10" y2="377.0" stroke="#231f20" stroke-width="1.1"/>
<text x="503.10" y="389.7" font-size="9.2" letter-spacing="-0.25" text-anchor="middle" fill="#383838">20</text>
<text x="421.0" y="407.8" font-size="11.8" text-anchor="middle" fill="#383838">Age (years)</text>
<text transform="translate(283.0,315.0) rotate(-90)" x="0" y="0" font-size="12.2" text-anchor="middle" fill="#383838">CD4+CD45RA-CD27+</text>
<text transform="translate(297.5,315.0) rotate(-90)" x="0" y="0" font-size="12.2" text-anchor="middle" fill="#383838">(%)</text>
<text transform="translate(273.8,238.2) scale(1.02,1)" x="0" y="0" font-size="16.6" fill="#383838">D</text>
<circle cx="72.30" cy="515.05" r="1.88" fill="#fff" stroke="#505050" stroke-width="1.1"/>
<circle cx="72.30" cy="540.70" r="1.88" fill="#fff" stroke="#505050" stroke-width="1.1"/>
<circle cx="72.30" cy="546.55" r="1.88" fill="#fff" stroke="#505050" stroke-width="1.1"/>
<circle cx="72.30" cy="548.57" r="1.88" fill="#fff" stroke="#505050" stroke-width="1.1"/>
<circle cx="72.30" cy="559.38" r="1.88" fill="#fff" stroke="#505050" stroke-width="1.1"/>
<circle cx="72.30" cy="580.07" r="1.88" fill="#fff" stroke="#505050" stroke-width="1.1"/>
<circle cx="80.80" cy="521.01" r="1.88" fill="#fff" stroke="#505050" stroke-width="1.1"/>
<circle cx="80.80" cy="531.81" r="1.88" fill="#fff" stroke="#505050" stroke-width="1.1"/>
<circle cx="80.80" cy="534.74" r="1.88" fill="#fff" stroke="#505050" stroke-width="1.1"/>
<circle cx="80.80" cy="547.56" r="1.88" fill="#fff" stroke="#505050" stroke-width="1.1"/>
<circle cx="80.80" cy="552.51" r="1.88" fill="#fff" stroke="#505050" stroke-width="1.1"/>
<circle cx="89.30" cy="516.06" r="1.88" fill="#fff" stroke="#505050" stroke-width="1.1"/>
<circle cx="89.30" cy="518.76" r="1.88" fill="#fff" stroke="#505050" stroke-width="1.1"/>
<circle cx="89.30" cy="521.46" r="1.88" fill="#fff" stroke="#505050" stroke-width="1.1"/>
<circle cx="89.30" cy="524.16" r="1.88" fill="#fff" stroke="#505050" stroke-width="1.1"/>
<circle cx="89.30" cy="526.86" r="1.88" fill="#fff" stroke="#505050" stroke-width="1.1"/>
<circle cx="89.30" cy="541.71" r="1.88" fill="#fff" stroke="#505050" stroke-width="1.1"/>
<circle cx="89.30" cy="543.68" r="1.88" fill="#fff" stroke="#505050" stroke-width="1.1"/>
<circle cx="89.30" cy="545.65" r="1.88" fill="#fff" stroke="#505050" stroke-width="1.1"/>
<circle cx="89.30" cy="576.14" r="1.88" fill="#fff" stroke="#505050" stroke-width="1.1"/>
<circle cx="97.80" cy="491.54" r="1.88" fill="#fff" stroke="#505050" stroke-width="1.1"/>
<circle cx="97.80" cy="494.46" r="1.88" fill="#fff" stroke="#505050" stroke-width="1.1"/>
<circle cx="97.80" cy="497.39" r="1.88" fill="#fff" stroke="#505050" stroke-width="1.1"/>
<circle cx="97.80" cy="532.38" r="1.88" fill="#fff" stroke="#505050" stroke-width="1.1"/>
<circle cx="97.80" cy="554.42" r="1.88" fill="#fff" stroke="#505050" stroke-width="1.1"/>
<circle cx="97.80" cy="559.38" r="1.88" fill="#fff" stroke="#505050" stroke-width="1.1"/>
<circle cx="106.30" cy="479.27" r="1.88" fill="#fff" stroke="#505050" stroke-width="1.1"/>
<circle cx="106.30" cy="514.15" r="1.88" fill="#fff" stroke="#505050" stroke-width="1.1"/>
<circle cx="106.30" cy="522.02" r="1.88" fill="#fff" stroke="#505050" stroke-width="1.1"/>
<circle cx="106.30" cy="524.65" r="1.88" fill="#fff" stroke="#505050" stroke-width="1.1"/>
<circle cx="106.30" cy="527.27" r="1.88" fill="#fff" stroke="#505050" stroke-width="1.1"/>
<circle cx="106.30" cy="529.90" r="1.88" fill="#fff" stroke="#505050" stroke-width="1.1"/>
<circle cx="106.30" cy="540.25" r="1.88" fill="#fff" stroke="#505050" stroke-width="1.1"/>
<circle cx="106.30" cy="557.46" r="1.88" fill="#fff" stroke="#505050" stroke-width="1.1"/>
<circle cx="106.30" cy="561.96" r="1.88" fill="#fff" stroke="#505050" stroke-width="1.1"/>
<circle cx="114.80" cy="493.45" r="1.88" fill="#fff" stroke="#505050" stroke-width="1.1"/>
<circle cx="114.80" cy="503.24" r="1.88" fill="#fff" stroke="#505050" stroke-width="1.1"/>
<circle cx="114.80" cy="505.71" r="1.88" fill="#fff" stroke="#505050" stroke-width="1.1"/>
<circle cx="114.80" cy="508.19" r="1.88" fill="#fff" stroke="#505050" stroke-width="1.1"/>
<circle cx="114.80" cy="514.15" r="1.88" fill="#fff" stroke="#505050" stroke-width="1.1"/>
<circle cx="114.80" cy="529.90" r="1.88" fill="#fff" stroke="#505050" stroke-width="1.1"/>
<circle cx="114.80" cy="532.26" r="1.88" fill="#fff" stroke="#505050" stroke-width="1.1"/>
<circle cx="114.80" cy="534.62" r="1.88" fill="#fff" stroke="#505050" stroke-width="1.1"/>
<circle cx="114.80" cy="536.99" r="1.88" fill="#fff" stroke="#505050" stroke-width="1.1"/>
<circle cx="114.80" cy="539.35" r="1.88" fill="#fff" stroke="#505050" stroke-width="1.1"/>
<circle cx="114.80" cy="541.71" r="1.88" fill="#fff" stroke="#505050" stroke-width="1.1"/>
<circle cx="114.80" cy="553.52" r="1.88" fill="#fff" stroke="#505050" stroke-width="1.1"/>
<circle cx="114.80" cy="556.45" r="1.88" fill="#fff" stroke="#505050" stroke-width="1.1"/>
<circle cx="114.80" cy="559.38" r="1.88" fill="#fff" stroke="#505050" stroke-width="1.1"/>
<circle cx="123.30" cy="502.34" r="1.88" fill="#fff" stroke="#505050" stroke-width="1.1"/>
<circle cx="123.30" cy="504.25" r="1.88" fill="#fff" stroke="#505050" stroke-width="1.1"/>
<circle cx="123.30" cy="529.90" r="1.88" fill="#fff" stroke="#505050" stroke-width="1.1"/>
<circle cx="123.30" cy="534.40" r="1.88" fill="#fff" stroke="#505050" stroke-width="1.1"/>
<circle cx="131.80" cy="491.42" r="1.88" fill="#fff" stroke="#505050" stroke-width="1.1"/>
<circle cx="131.80" cy="512.69" r="1.88" fill="#fff" stroke="#505050" stroke-width="1.1"/>
<circle cx="131.80" cy="530.80" r="1.88" fill="#fff" stroke="#505050" stroke-width="1.1"/>
<circle cx="131.80" cy="533.15" r="1.88" fill="#fff" stroke="#505050" stroke-width="1.1"/>
<circle cx="131.80" cy="535.50" r="1.88" fill="#fff" stroke="#505050" stroke-width="1.1"/>
<circle cx="131.80" cy="537.85" r="1.88" fill="#fff" stroke="#505050" stroke-width="1.1"/>
<circle cx="131.80" cy="540.19" r="1.88" fill="#fff" stroke="#505050" stroke-width="1.1"/>
<circle cx="131.80" cy="542.54" r="1.88" fill="#fff" stroke="#505050" stroke-width="1.1"/>
<circle cx="131.80" cy="544.89" r="1.88" fill="#fff" stroke="#505050" stroke-width="1.1"/>
<circle cx="131.80" cy="547.24" r="1.88" fill="#fff" stroke="#505050" stroke-width="1.1"/>
<circle cx="131.80" cy="549.59" r="1.88" fill="#fff" stroke="#505050" stroke-width="1.1"/>
<circle cx="131.80" cy="562.98" r="1.88" fill="#fff" stroke="#505050" stroke-width="1.1"/>
<circle cx="140.30" cy="496.94" r="1.88" fill="#fff" stroke="#505050" stroke-width="1.1"/>
<circle cx="140.30" cy="520.56" r="1.88" fill="#fff" stroke="#505050" stroke-width="1.1"/>
<circle cx="140.30" cy="537.77" r="1.88" fill="#fff" stroke="#505050" stroke-width="1.1"/>
<circle cx="140.30" cy="545.65" r="1.88" fill="#fff" stroke="#505050" stroke-width="1.1"/>
<circle cx="140.30" cy="548.57" r="1.88" fill="#fff" stroke="#505050" stroke-width="1.1"/>
<circle cx="148.80" cy="495.36" r="1.88" fill="#fff" stroke="#505050" stroke-width="1.1"/>
<circle cx="148.80" cy="504.25" r="1.88" fill="#fff" stroke="#505050" stroke-width="1.1"/>
<circle cx="148.80" cy="534.40" r="1.88" fill="#fff" stroke="#505050" stroke-width="1.1"/>
<circle cx="148.80" cy="536.76" r="1.88" fill="#fff" stroke="#505050" stroke-width="1.1"/>
<circle cx="148.80" cy="539.12" r="1.88" fill="#fff" stroke="#505050" stroke-width="1.1"/>
<circle cx="148.80" cy="541.49" r="1.88" fill="#fff" stroke="#505050" stroke-width="1.1"/>
<circle cx="148.80" cy="543.85" r="1.88" fill="#fff" stroke="#505050" stroke-width="1.1"/>
<circle cx="148.80" cy="546.21" r="1.88" fill="#fff" stroke="#505050" stroke-width="1.1"/>
<circle cx="148.80" cy="548.57" r="1.88" fill="#fff" stroke="#505050" stroke-width="1.1"/>
<circle cx="157.30" cy="487.49" r="1.88" fill="#fff" stroke="#505050" stroke-width="1.1"/>
<circle cx="157.30" cy="504.81" r="1.88" fill="#fff" stroke="#505050" stroke-width="1.1"/>
<circle cx="157.30" cy="511.22" r="1.88" fill="#fff" stroke="#505050" stroke-width="1.1"/>
<circle cx="157.30" cy="513.67" r="1.88" fill="#fff" stroke="#505050" stroke-width="1.1"/>
<circle cx="157.30" cy="516.12" r="1.88" fill="#fff" stroke="#505050" stroke-width="1.1"/>
<circle cx="157.30" cy="518.57" r="1.88" fill="#fff" stroke="#505050" stroke-width="1.1"/>
<circle cx="157.30" cy="521.01" r="1.88" fill="#fff" stroke="#505050" stroke-width="1.1"/>
<circle cx="157.30" cy="524.95" r="1.88" fill="#fff" stroke="#505050" stroke-width="1.1"/>
<circle cx="157.30" cy="527.88" r="1.88" fill="#fff" stroke="#505050" stroke-width="1.1"/>
<circle cx="157.30" cy="530.80" r="1.88" fill="#fff" stroke="#505050" stroke-width="1.1"/>
<circle cx="157.30" cy="540.70" r="1.88" fill="#fff" stroke="#505050" stroke-width="1.1"/>
<circle cx="157.30" cy="542.99" r="1.88" fill="#fff" stroke="#505050" stroke-width="1.1"/>
<circle cx="157.30" cy="545.27" r="1.88" fill="#fff" stroke="#505050" stroke-width="1.1"/>
<circle cx="157.30" cy="547.56" r="1.88" fill="#fff" stroke="#505050" stroke-width="1.1"/>
<circle cx="157.30" cy="549.85" r="1.88" fill="#fff" stroke="#505050" stroke-width="1.1"/>
<circle cx="157.30" cy="552.14" r="1.88" fill="#fff" stroke="#505050" stroke-width="1.1"/>
<circle cx="157.30" cy="554.42" r="1.88" fill="#fff" stroke="#505050" stroke-width="1.1"/>
<circle cx="157.30" cy="560.39" r="1.88" fill="#fff" stroke="#505050" stroke-width="1.1"/>
<circle cx="157.30" cy="570.17" r="1.88" fill="#fff" stroke="#505050" stroke-width="1.1"/>
<circle cx="165.80" cy="496.38" r="1.88" fill="#fff" stroke="#505050" stroke-width="1.1"/>
<circle cx="165.80" cy="503.91" r="1.88" fill="#fff" stroke="#505050" stroke-width="1.1"/>
<circle cx="165.80" cy="509.65" r="1.88" fill="#fff" stroke="#505050" stroke-width="1.1"/>
<circle cx="165.80" cy="520.00" r="1.88" fill="#fff" stroke="#505050" stroke-width="1.1"/>
<circle cx="165.80" cy="524.50" r="1.88" fill="#fff" stroke="#505050" stroke-width="1.1"/>
<circle cx="165.80" cy="534.40" r="1.88" fill="#fff" stroke="#505050" stroke-width="1.1"/>
<circle cx="165.80" cy="538.67" r="1.88" fill="#fff" stroke="#505050" stroke-width="1.1"/>
<circle cx="165.80" cy="541.15" r="1.88" fill="#fff" stroke="#505050" stroke-width="1.1"/>
<circle cx="165.80" cy="543.62" r="1.88" fill="#fff" stroke="#505050" stroke-width="1.1"/>
<circle cx="165.80" cy="570.62" r="1.88" fill="#fff" stroke="#505050" stroke-width="1.1"/>
<circle cx="174.30" cy="500.76" r="1.88" fill="#fff" stroke="#505050" stroke-width="1.1"/>
<circle cx="174.30" cy="512.69" r="1.88" fill="#fff" stroke="#505050" stroke-width="1.1"/>
<circle cx="174.30" cy="524.95" r="1.88" fill="#fff" stroke="#505050" stroke-width="1.1"/>
<circle cx="174.30" cy="527.42" r="1.88" fill="#fff" stroke="#505050" stroke-width="1.1"/>
<circle cx="174.30" cy="529.90" r="1.88" fill="#fff" stroke="#505050" stroke-width="1.1"/>
<circle cx="174.30" cy="557.01" r="1.88" fill="#fff" stroke="#505050" stroke-width="1.1"/>
<circle cx="174.30" cy="565.90" r="1.88" fill="#fff" stroke="#505050" stroke-width="1.1"/>
<circle cx="182.80" cy="492.89" r="1.88" fill="#fff" stroke="#505050" stroke-width="1.1"/>
<circle cx="182.80" cy="524.50" r="1.88" fill="#fff" stroke="#505050" stroke-width="1.1"/>
<circle cx="182.80" cy="536.76" r="1.88" fill="#fff" stroke="#505050" stroke-width="1.1"/>
<circle cx="182.80" cy="545.99" r="1.88" fill="#fff" stroke="#505050" stroke-width="1.1"/>
<circle cx="182.80" cy="552.51" r="1.88" fill="#fff" stroke="#505050" stroke-width="1.1"/>
<circle cx="182.80" cy="555.44" r="1.88" fill="#fff" stroke="#505050" stroke-width="1.1"/>
<circle cx="182.80" cy="558.36" r="1.88" fill="#fff" stroke="#505050" stroke-width="1.1"/>
<circle cx="182.80" cy="563.88" r="1.88" fill="#fff" stroke="#505050" stroke-width="1.1"/>
<circle cx="191.30" cy="498.40" r="1.88" fill="#fff" stroke="#505050" stroke-width="1.1"/>
<circle cx="191.30" cy="508.64" r="1.88" fill="#fff" stroke="#505050" stroke-width="1.1"/>
<circle cx="191.30" cy="521.01" r="1.88" fill="#fff" stroke="#505050" stroke-width="1.1"/>
<circle cx="191.30" cy="530.80" r="1.88" fill="#fff" stroke="#505050" stroke-width="1.1"/>
<circle cx="191.30" cy="542.27" r="1.88" fill="#fff" stroke="#505050" stroke-width="1.1"/>
<circle cx="191.30" cy="554.42" r="1.88" fill="#fff" stroke="#505050" stroke-width="1.1"/>
<circle cx="191.30" cy="557.46" r="1.88" fill="#fff" stroke="#505050" stroke-width="1.1"/>
<circle cx="199.80" cy="533.27" r="1.88" fill="#fff" stroke="#505050" stroke-width="1.1"/>
<circle cx="199.80" cy="537.77" r="1.88" fill="#fff" stroke="#505050" stroke-width="1.1"/>
<circle cx="199.80" cy="540.70" r="1.88" fill="#fff" stroke="#505050" stroke-width="1.1"/>
<circle cx="199.80" cy="549.02" r="1.88" fill="#fff" stroke="#505050" stroke-width="1.1"/>
<circle cx="199.80" cy="561.74" r="1.88" fill="#fff" stroke="#505050" stroke-width="1.1"/>
<circle cx="199.80" cy="568.60" r="1.88" fill="#fff" stroke="#505050" stroke-width="1.1"/>
<circle cx="199.80" cy="576.14" r="1.88" fill="#fff" stroke="#505050" stroke-width="1.1"/>
<circle cx="208.30" cy="510.55" r="1.88" fill="#fff" stroke="#505050" stroke-width="1.1"/>
<circle cx="208.30" cy="519.10" r="1.88" fill="#fff" stroke="#505050" stroke-width="1.1"/>
<circle cx="208.30" cy="544.64" r="1.88" fill="#fff" stroke="#505050" stroke-width="1.1"/>
<circle cx="208.30" cy="547.56" r="1.88" fill="#fff" stroke="#505050" stroke-width="1.1"/>
<circle cx="208.30" cy="550.49" r="1.88" fill="#fff" stroke="#505050" stroke-width="1.1"/>
<circle cx="208.30" cy="557.46" r="1.88" fill="#fff" stroke="#505050" stroke-width="1.1"/>
<circle cx="208.30" cy="559.38" r="1.88" fill="#fff" stroke="#505050" stroke-width="1.1"/>
<circle cx="208.30" cy="575.12" r="1.88" fill="#fff" stroke="#505050" stroke-width="1.1"/>
<circle cx="216.80" cy="502.90" r="1.88" fill="#fff" stroke="#505050" stroke-width="1.1"/>
<circle cx="216.80" cy="516.06" r="1.88" fill="#fff" stroke="#505050" stroke-width="1.1"/>
<circle cx="216.80" cy="529.90" r="1.88" fill="#fff" stroke="#505050" stroke-width="1.1"/>
<circle cx="216.80" cy="537.77" r="1.88" fill="#fff" stroke="#505050" stroke-width="1.1"/>
<circle cx="216.80" cy="540.19" r="1.88" fill="#fff" stroke="#505050" stroke-width="1.1"/>
<circle cx="216.80" cy="542.61" r="1.88" fill="#fff" stroke="#505050" stroke-width="1.1"/>
<circle cx="216.80" cy="559.38" r="1.88" fill="#fff" stroke="#505050" stroke-width="1.1"/>
<circle cx="225.30" cy="536.76" r="1.88" fill="#fff" stroke="#505050" stroke-width="1.1"/>
<circle cx="242.30" cy="526.52" r="1.88" fill="#fff" stroke="#505050" stroke-width="1.1"/>
<rect x="70.35" y="483.62" width="3.9" height="25.50" fill="#000"/>
<circle cx="72.30" cy="489.89" r="1.88" fill="#fff" stroke="#505050" stroke-width="1.1"/>
<circle cx="72.30" cy="494.21" r="1.88" fill="#fff" stroke="#505050" stroke-width="1.1"/>
<circle cx="72.30" cy="502.85" r="1.88" fill="#fff" stroke="#505050" stroke-width="1.1"/>
<circle cx="72.30" cy="507.17" r="1.88" fill="#fff" stroke="#505050" stroke-width="1.1"/>
<rect x="78.85" y="475.75" width="3.9" height="33.37" fill="#000"/>
<circle cx="80.80" cy="481.91" r="1.88" fill="#fff" stroke="#505050" stroke-width="1.1"/>
<circle cx="80.80" cy="494.54" r="1.88" fill="#fff" stroke="#505050" stroke-width="1.1"/>
<rect x="87.35" y="476.76" width="3.9" height="38.32" fill="#000"/>
<circle cx="89.30" cy="487.32" r="1.88" fill="#fff" stroke="#505050" stroke-width="1.1"/>
<circle cx="89.30" cy="495.92" r="1.88" fill="#fff" stroke="#505050" stroke-width="1.1"/>
<rect x="95.85" y="500.39" width="3.9" height="18.64" fill="#000"/>
<circle cx="97.80" cy="513.39" r="1.88" fill="#fff" stroke="#505050" stroke-width="1.1"/>
<circle cx="97.80" cy="517.07" r="1.88" fill="#fff" stroke="#505050" stroke-width="1.1"/>
<rect x="104.35" y="484.64" width="3.9" height="28.54" fill="#000"/>
<rect x="70.35" y="467.88" width="3.9" height="3.9" fill="#000"/>
<rect x="70.35" y="470.50" width="3.9" height="3.9" fill="#000"/>
<rect x="70.35" y="473.12" width="3.9" height="3.9" fill="#000"/>
<rect x="70.35" y="475.75" width="3.9" height="3.9" fill="#000"/>
<rect x="70.35" y="478.38" width="3.9" height="3.9" fill="#000"/>
<rect x="70.35" y="481.00" width="3.9" height="3.9" fill="#000"/>
<rect x="70.35" y="483.62" width="3.9" height="3.9" fill="#000"/>
<rect x="78.85" y="511.53" width="3.9" height="3.9" fill="#000"/>
<rect x="78.85" y="524.57" width="3.9" height="3.9" fill="#000"/>
<rect x="87.35" y="532.45" width="3.9" height="3.9" fill="#000"/>
<rect x="95.85" y="478.68" width="3.9" height="3.9" fill="#000"/>
<rect x="95.85" y="481.66" width="3.9" height="3.9" fill="#000"/>
<rect x="95.85" y="484.64" width="3.9" height="3.9" fill="#000"/>
<rect x="95.85" y="519.06" width="3.9" height="3.9" fill="#000"/>
<rect x="112.85" y="483.18" width="3.9" height="3.9" fill="#000"/>
<rect x="112.85" y="487.56" width="3.9" height="3.9" fill="#000"/>
<rect x="112.85" y="496.45" width="3.9" height="3.9" fill="#000"/>
<rect x="112.85" y="497.35" width="3.9" height="3.9" fill="#000"/>
<rect x="121.35" y="489.47" width="3.9" height="3.9" fill="#000"/>
<rect x="121.35" y="522.55" width="3.9" height="3.9" fill="#000"/>
<rect x="129.85" y="500.39" width="3.9" height="3.9" fill="#000"/>
<rect x="129.85" y="513.10" width="3.9" height="3.9" fill="#000"/>
<rect x="129.85" y="519.06" width="3.9" height="3.9" fill="#000"/>
<rect x="129.85" y="520.97" width="3.9" height="3.9" fill="#000"/>
<rect x="138.35" y="498.36" width="3.9" height="3.9" fill="#000"/>
<rect x="138.35" y="505.22" width="3.9" height="3.9" fill="#000"/>
<rect x="138.35" y="507.70" width="3.9" height="3.9" fill="#000"/>
<rect x="138.35" y="510.18" width="3.9" height="3.9" fill="#000"/>
<rect x="146.85" y="489.47" width="3.9" height="3.9" fill="#000"/>
<rect x="146.85" y="507.25" width="3.9" height="3.9" fill="#000"/>
<rect x="146.85" y="527.95" width="3.9" height="3.9" fill="#000"/>
<rect x="155.35" y="488.57" width="3.9" height="3.9" fill="#000"/>
<rect x="172.35" y="504.32" width="3.9" height="3.9" fill="#000"/>
<rect x="172.35" y="520.07" width="3.9" height="3.9" fill="#000"/>
<rect x="172.35" y="534.81" width="3.9" height="3.9" fill="#000"/>
<rect x="172.35" y="536.72" width="3.9" height="3.9" fill="#000"/>
<rect x="180.85" y="507.81" width="3.9" height="3.9" fill="#000"/>
<rect x="180.85" y="515.46" width="3.9" height="3.9" fill="#000"/>
<rect x="180.85" y="527.95" width="3.9" height="3.9" fill="#000"/>
<rect x="197.85" y="484.97" width="3.9" height="3.9" fill="#000"/>
<path d="M72.30,491.09 L199.80,520.45" fill="none" stroke="#a82338" stroke-width="1.3"/>
<path d="M72.30,501.32 L242.30,552.85" fill="none" stroke="#3c5a8c" stroke-width="1.3"/>
<line x1="72.3" y1="466.3" x2="72.3" y2="588.9" stroke="#231f20" stroke-width="1.2"/>
<line x1="67.3" y1="583.9" x2="247.3" y2="583.9" stroke="#231f20" stroke-width="1.2"/>
<line x1="67.3" y1="583.90" x2="72.3" y2="583.90" stroke="#231f20" stroke-width="1.1"/>
<text x="63.10" y="587.20" font-size="9.0" letter-spacing="-0.2" text-anchor="end" fill="#383838">0</text>
<line x1="67.3" y1="561.40" x2="72.3" y2="561.40" stroke="#231f20" stroke-width="1.1"/>
<text x="63.10" y="564.70" font-size="9.0" letter-spacing="-0.2" text-anchor="end" fill="#383838">20</text>
<line x1="67.3" y1="538.90" x2="72.3" y2="538.90" stroke="#231f20" stroke-width="1.1"/>
<text x="63.10" y="542.20" font-size="9.0" letter-spacing="-0.2" text-anchor="end" fill="#383838">40</text>
<line x1="67.3" y1="516.40" x2="72.3" y2="516.40" stroke="#231f20" stroke-width="1.1"/>
<text x="63.10" y="519.70" font-size="9.0" letter-spacing="-0.2" text-anchor="end" fill="#383838">60</text>
<line x1="67.3" y1="493.90" x2="72.3" y2="493.90" stroke="#231f20" stroke-width="1.1"/>
<text x="63.10" y="497.20" font-size="9.0" letter-spacing="-0.2" text-anchor="end" fill="#383838">80</text>
<line x1="67.3" y1="471.40" x2="72.3" y2="471.40" stroke="#231f20" stroke-width="1.1"/>
<text x="63.10" y="474.70" font-size="9.0" letter-spacing="-0.2" text-anchor="end" fill="#383838">100</text>
<line x1="72.30" y1="583.9" x2="72.30" y2="588.9" stroke="#231f20" stroke-width="1.1"/>
<text x="72.30" y="601.9" font-size="9.2" letter-spacing="-0.25" text-anchor="middle" fill="#383838">0</text>
<line x1="89.30" y1="583.9" x2="89.30" y2="588.9" stroke="#231f20" stroke-width="1.1"/>
<text x="89.30" y="601.9" font-size="9.2" letter-spacing="-0.25" text-anchor="middle" fill="#383838">2</text>
<line x1="106.30" y1="583.9" x2="106.30" y2="588.9" stroke="#231f20" stroke-width="1.1"/>
<text x="106.30" y="601.9" font-size="9.2" letter-spacing="-0.25" text-anchor="middle" fill="#383838">4</text>
<line x1="123.30" y1="583.9" x2="123.30" y2="588.9" stroke="#231f20" stroke-width="1.1"/>
<text x="123.30" y="601.9" font-size="9.2" letter-spacing="-0.25" text-anchor="middle" fill="#383838">6</text>
<line x1="140.30" y1="583.9" x2="140.30" y2="588.9" stroke="#231f20" stroke-width="1.1"/>
<text x="140.30" y="601.9" font-size="9.2" letter-spacing="-0.25" text-anchor="middle" fill="#383838">8</text>
<line x1="157.30" y1="583.9" x2="157.30" y2="588.9" stroke="#231f20" stroke-width="1.1"/>
<text x="157.30" y="601.9" font-size="9.2" letter-spacing="-0.25" text-anchor="middle" fill="#383838">10</text>
<line x1="174.30" y1="583.9" x2="174.30" y2="588.9" stroke="#231f20" stroke-width="1.1"/>
<text x="174.30" y="601.9" font-size="9.2" letter-spacing="-0.25" text-anchor="middle" fill="#383838">12</text>
<line x1="191.30" y1="583.9" x2="191.30" y2="588.9" stroke="#231f20" stroke-width="1.1"/>
<text x="191.30" y="601.9" font-size="9.2" letter-spacing="-0.25" text-anchor="middle" fill="#383838">14</text>
<line x1="208.30" y1="583.9" x2="208.30" y2="588.9" stroke="#231f20" stroke-width="1.1"/>
<text x="208.30" y="601.9" font-size="9.2" letter-spacing="-0.25" text-anchor="middle" fill="#383838">16</text>
<line x1="225.30" y1="583.9" x2="225.30" y2="588.9" stroke="#231f20" stroke-width="1.1"/>
<text x="225.30" y="601.9" font-size="9.2" letter-spacing="-0.25" text-anchor="middle" fill="#383838">18</text>
<line x1="242.30" y1="583.9" x2="242.30" y2="588.9" stroke="#231f20" stroke-width="1.1"/>
<text x="242.30" y="601.9" font-size="9.2" letter-spacing="-0.25" text-anchor="middle" fill="#383838">20</text>
<text x="160.0" y="620.1" font-size="11.8" text-anchor="middle" fill="#383838">Age (years)</text>
<text transform="translate(23.0,526.8) rotate(-90)" x="0" y="0" font-size="12.2" text-anchor="middle" fill="#383838">CD8+CD45RA+CD27+</text>
<text transform="translate(37.0,526.8) rotate(-90)" x="0" y="0" font-size="12.2" text-anchor="middle" fill="#383838">(%)</text>
<text transform="translate(14.1,450.8) scale(0.69,1)" x="0" y="0" font-size="16.6" fill="#383838">E</text>
<circle cx="333.10" cy="556.44" r="1.88" fill="#fff" stroke="#505050" stroke-width="1.1"/>
<circle cx="333.10" cy="560.41" r="1.88" fill="#fff" stroke="#505050" stroke-width="1.1"/>
<circle cx="341.60" cy="508.63" r="1.88" fill="#fff" stroke="#505050" stroke-width="1.1"/>
<circle cx="341.60" cy="540.69" r="1.88" fill="#fff" stroke="#505050" stroke-width="1.1"/>
<circle cx="341.60" cy="542.68" r="1.88" fill="#fff" stroke="#505050" stroke-width="1.1"/>
<circle cx="341.60" cy="544.66" r="1.88" fill="#fff" stroke="#505050" stroke-width="1.1"/>
<circle cx="350.10" cy="496.96" r="1.88" fill="#fff" stroke="#505050" stroke-width="1.1"/>
<circle cx="350.10" cy="512.71" r="1.88" fill="#fff" stroke="#505050" stroke-width="1.1"/>
<circle cx="350.10" cy="518.03" r="1.88" fill="#fff" stroke="#505050" stroke-width="1.1"/>
<circle cx="350.10" cy="526.53" r="1.88" fill="#fff" stroke="#505050" stroke-width="1.1"/>
<circle cx="350.10" cy="536.39" r="1.88" fill="#fff" stroke="#505050" stroke-width="1.1"/>
<circle cx="350.10" cy="539.14" r="1.88" fill="#fff" stroke="#505050" stroke-width="1.1"/>
<circle cx="350.10" cy="541.90" r="1.88" fill="#fff" stroke="#505050" stroke-width="1.1"/>
<circle cx="350.10" cy="544.66" r="1.88" fill="#fff" stroke="#505050" stroke-width="1.1"/>
<circle cx="358.60" cy="518.60" r="1.88" fill="#fff" stroke="#505050" stroke-width="1.1"/>
<circle cx="358.60" cy="544.21" r="1.88" fill="#fff" stroke="#505050" stroke-width="1.1"/>
<circle cx="367.10" cy="526.53" r="1.88" fill="#fff" stroke="#505050" stroke-width="1.1"/>
<circle cx="367.10" cy="537.75" r="1.88" fill="#fff" stroke="#505050" stroke-width="1.1"/>
<circle cx="367.10" cy="540.41" r="1.88" fill="#fff" stroke="#505050" stroke-width="1.1"/>
<circle cx="367.10" cy="543.07" r="1.88" fill="#fff" stroke="#505050" stroke-width="1.1"/>
<circle cx="367.10" cy="578.54" r="1.88" fill="#fff" stroke="#505050" stroke-width="1.1"/>
<circle cx="367.10" cy="581.93" r="1.88" fill="#fff" stroke="#505050" stroke-width="1.1"/>
<circle cx="375.60" cy="524.94" r="1.88" fill="#fff" stroke="#505050" stroke-width="1.1"/>
<circle cx="375.60" cy="527.25" r="1.88" fill="#fff" stroke="#505050" stroke-width="1.1"/>
<circle cx="375.60" cy="529.55" r="1.88" fill="#fff" stroke="#505050" stroke-width="1.1"/>
<circle cx="375.60" cy="531.86" r="1.88" fill="#fff" stroke="#505050" stroke-width="1.1"/>
<circle cx="375.60" cy="544.66" r="1.88" fill="#fff" stroke="#505050" stroke-width="1.1"/>
<circle cx="375.60" cy="547.60" r="1.88" fill="#fff" stroke="#505050" stroke-width="1.1"/>
<circle cx="375.60" cy="571.17" r="1.88" fill="#fff" stroke="#505050" stroke-width="1.1"/>
<circle cx="375.60" cy="574.12" r="1.88" fill="#fff" stroke="#505050" stroke-width="1.1"/>
<circle cx="375.60" cy="577.06" r="1.88" fill="#fff" stroke="#505050" stroke-width="1.1"/>
<circle cx="384.10" cy="534.35" r="1.88" fill="#fff" stroke="#505050" stroke-width="1.1"/>
<circle cx="384.10" cy="545.56" r="1.88" fill="#fff" stroke="#505050" stroke-width="1.1"/>
<circle cx="384.10" cy="556.44" r="1.88" fill="#fff" stroke="#505050" stroke-width="1.1"/>
<circle cx="384.10" cy="569.24" r="1.88" fill="#fff" stroke="#505050" stroke-width="1.1"/>
<circle cx="384.10" cy="575.14" r="1.88" fill="#fff" stroke="#505050" stroke-width="1.1"/>
<circle cx="392.60" cy="514.07" r="1.88" fill="#fff" stroke="#505050" stroke-width="1.1"/>
<circle cx="392.60" cy="522.00" r="1.88" fill="#fff" stroke="#505050" stroke-width="1.1"/>
<circle cx="392.60" cy="530.84" r="1.88" fill="#fff" stroke="#505050" stroke-width="1.1"/>
<circle cx="392.60" cy="533.27" r="1.88" fill="#fff" stroke="#505050" stroke-width="1.1"/>
<circle cx="392.60" cy="535.71" r="1.88" fill="#fff" stroke="#505050" stroke-width="1.1"/>
<circle cx="392.60" cy="538.65" r="1.88" fill="#fff" stroke="#505050" stroke-width="1.1"/>
<circle cx="392.60" cy="540.64" r="1.88" fill="#fff" stroke="#505050" stroke-width="1.1"/>
<circle cx="392.60" cy="542.62" r="1.88" fill="#fff" stroke="#505050" stroke-width="1.1"/>
<circle cx="392.60" cy="551.46" r="1.88" fill="#fff" stroke="#505050" stroke-width="1.1"/>
<circle cx="392.60" cy="569.81" r="1.88" fill="#fff" stroke="#505050" stroke-width="1.1"/>
<circle cx="401.10" cy="535.71" r="1.88" fill="#fff" stroke="#505050" stroke-width="1.1"/>
<circle cx="401.10" cy="556.44" r="1.88" fill="#fff" stroke="#505050" stroke-width="1.1"/>
<circle cx="401.10" cy="558.42" r="1.88" fill="#fff" stroke="#505050" stroke-width="1.1"/>
<circle cx="401.10" cy="560.41" r="1.88" fill="#fff" stroke="#505050" stroke-width="1.1"/>
<circle cx="401.10" cy="567.21" r="1.88" fill="#fff" stroke="#505050" stroke-width="1.1"/>
<circle cx="409.60" cy="531.86" r="1.88" fill="#fff" stroke="#505050" stroke-width="1.1"/>
<circle cx="409.60" cy="533.78" r="1.88" fill="#fff" stroke="#505050" stroke-width="1.1"/>
<circle cx="409.60" cy="535.71" r="1.88" fill="#fff" stroke="#505050" stroke-width="1.1"/>
<circle cx="409.60" cy="548.51" r="1.88" fill="#fff" stroke="#505050" stroke-width="1.1"/>
<circle cx="409.60" cy="550.89" r="1.88" fill="#fff" stroke="#505050" stroke-width="1.1"/>
<circle cx="409.60" cy="553.27" r="1.88" fill="#fff" stroke="#505050" stroke-width="1.1"/>
<circle cx="409.60" cy="555.65" r="1.88" fill="#fff" stroke="#505050" stroke-width="1.1"/>
<circle cx="409.60" cy="558.03" r="1.88" fill="#fff" stroke="#505050" stroke-width="1.1"/>
<circle cx="409.60" cy="560.41" r="1.88" fill="#fff" stroke="#505050" stroke-width="1.1"/>
<circle cx="409.60" cy="573.21" r="1.88" fill="#fff" stroke="#505050" stroke-width="1.1"/>
<circle cx="409.60" cy="578.08" r="1.88" fill="#fff" stroke="#505050" stroke-width="1.1"/>
<circle cx="418.10" cy="510.78" r="1.88" fill="#fff" stroke="#505050" stroke-width="1.1"/>
<circle cx="418.10" cy="531.86" r="1.88" fill="#fff" stroke="#505050" stroke-width="1.1"/>
<circle cx="418.10" cy="534.42" r="1.88" fill="#fff" stroke="#505050" stroke-width="1.1"/>
<circle cx="418.10" cy="536.98" r="1.88" fill="#fff" stroke="#505050" stroke-width="1.1"/>
<circle cx="418.10" cy="539.54" r="1.88" fill="#fff" stroke="#505050" stroke-width="1.1"/>
<circle cx="418.10" cy="542.10" r="1.88" fill="#fff" stroke="#505050" stroke-width="1.1"/>
<circle cx="418.10" cy="544.66" r="1.88" fill="#fff" stroke="#505050" stroke-width="1.1"/>
<circle cx="418.10" cy="548.51" r="1.88" fill="#fff" stroke="#505050" stroke-width="1.1"/>
<circle cx="418.10" cy="550.76" r="1.88" fill="#fff" stroke="#505050" stroke-width="1.1"/>
<circle cx="418.10" cy="553.01" r="1.88" fill="#fff" stroke="#505050" stroke-width="1.1"/>
<circle cx="418.10" cy="555.26" r="1.88" fill="#fff" stroke="#505050" stroke-width="1.1"/>
<circle cx="418.10" cy="557.51" r="1.88" fill="#fff" stroke="#505050" stroke-width="1.1"/>
<circle cx="418.10" cy="559.76" r="1.88" fill="#fff" stroke="#505050" stroke-width="1.1"/>
<circle cx="418.10" cy="562.01" r="1.88" fill="#fff" stroke="#505050" stroke-width="1.1"/>
<circle cx="418.10" cy="564.26" r="1.88" fill="#fff" stroke="#505050" stroke-width="1.1"/>
<circle cx="418.10" cy="568.68" r="1.88" fill="#fff" stroke="#505050" stroke-width="1.1"/>
<circle cx="426.60" cy="522.00" r="1.88" fill="#fff" stroke="#505050" stroke-width="1.1"/>
<circle cx="426.60" cy="530.50" r="1.88" fill="#fff" stroke="#505050" stroke-width="1.1"/>
<circle cx="426.60" cy="542.62" r="1.88" fill="#fff" stroke="#505050" stroke-width="1.1"/>
<circle cx="426.60" cy="545.56" r="1.88" fill="#fff" stroke="#505050" stroke-width="1.1"/>
<circle cx="426.60" cy="548.51" r="1.88" fill="#fff" stroke="#505050" stroke-width="1.1"/>
<circle cx="426.60" cy="558.37" r="1.88" fill="#fff" stroke="#505050" stroke-width="1.1"/>
<circle cx="426.60" cy="560.83" r="1.88" fill="#fff" stroke="#505050" stroke-width="1.1"/>
<circle cx="426.60" cy="563.30" r="1.88" fill="#fff" stroke="#505050" stroke-width="1.1"/>
<circle cx="426.60" cy="565.76" r="1.88" fill="#fff" stroke="#505050" stroke-width="1.1"/>
<circle cx="426.60" cy="568.22" r="1.88" fill="#fff" stroke="#505050" stroke-width="1.1"/>
<circle cx="435.10" cy="530.50" r="1.88" fill="#fff" stroke="#505050" stroke-width="1.1"/>
<circle cx="435.10" cy="533.10" r="1.88" fill="#fff" stroke="#505050" stroke-width="1.1"/>
<circle cx="435.10" cy="535.71" r="1.88" fill="#fff" stroke="#505050" stroke-width="1.1"/>
<circle cx="435.10" cy="550.55" r="1.88" fill="#fff" stroke="#505050" stroke-width="1.1"/>
<circle cx="435.10" cy="558.37" r="1.88" fill="#fff" stroke="#505050" stroke-width="1.1"/>
<circle cx="435.10" cy="560.41" r="1.88" fill="#fff" stroke="#505050" stroke-width="1.1"/>
<circle cx="443.60" cy="522.00" r="1.88" fill="#fff" stroke="#505050" stroke-width="1.1"/>
<circle cx="443.60" cy="536.73" r="1.88" fill="#fff" stroke="#505050" stroke-width="1.1"/>
<circle cx="443.60" cy="539.67" r="1.88" fill="#fff" stroke="#505050" stroke-width="1.1"/>
<circle cx="443.60" cy="542.62" r="1.88" fill="#fff" stroke="#505050" stroke-width="1.1"/>
<circle cx="443.60" cy="556.44" r="1.88" fill="#fff" stroke="#505050" stroke-width="1.1"/>
<circle cx="443.60" cy="559.05" r="1.88" fill="#fff" stroke="#505050" stroke-width="1.1"/>
<circle cx="443.60" cy="561.65" r="1.88" fill="#fff" stroke="#505050" stroke-width="1.1"/>
<circle cx="443.60" cy="564.26" r="1.88" fill="#fff" stroke="#505050" stroke-width="1.1"/>
<circle cx="452.10" cy="532.76" r="1.88" fill="#fff" stroke="#505050" stroke-width="1.1"/>
<circle cx="452.10" cy="534.74" r="1.88" fill="#fff" stroke="#505050" stroke-width="1.1"/>
<circle cx="452.10" cy="536.73" r="1.88" fill="#fff" stroke="#505050" stroke-width="1.1"/>
<circle cx="452.10" cy="551.46" r="1.88" fill="#fff" stroke="#505050" stroke-width="1.1"/>
<circle cx="452.10" cy="553.50" r="1.88" fill="#fff" stroke="#505050" stroke-width="1.1"/>
<circle cx="452.10" cy="558.37" r="1.88" fill="#fff" stroke="#505050" stroke-width="1.1"/>
<circle cx="452.10" cy="560.58" r="1.88" fill="#fff" stroke="#505050" stroke-width="1.1"/>
<circle cx="452.10" cy="562.79" r="1.88" fill="#fff" stroke="#505050" stroke-width="1.1"/>
<circle cx="452.10" cy="565.00" r="1.88" fill="#fff" stroke="#505050" stroke-width="1.1"/>
<circle cx="452.10" cy="567.21" r="1.88" fill="#fff" stroke="#505050" stroke-width="1.1"/>
<circle cx="460.60" cy="511.80" r="1.88" fill="#fff" stroke="#505050" stroke-width="1.1"/>
<circle cx="460.60" cy="522.00" r="1.88" fill="#fff" stroke="#505050" stroke-width="1.1"/>
<circle cx="460.60" cy="527.89" r="1.88" fill="#fff" stroke="#505050" stroke-width="1.1"/>
<circle cx="460.60" cy="528.91" r="1.88" fill="#fff" stroke="#505050" stroke-width="1.1"/>
<circle cx="460.60" cy="546.58" r="1.88" fill="#fff" stroke="#505050" stroke-width="1.1"/>
<circle cx="460.60" cy="549.02" r="1.88" fill="#fff" stroke="#505050" stroke-width="1.1"/>
<circle cx="460.60" cy="551.46" r="1.88" fill="#fff" stroke="#505050" stroke-width="1.1"/>
<circle cx="460.60" cy="569.81" r="1.88" fill="#fff" stroke="#505050" stroke-width="1.1"/>
<circle cx="469.10" cy="522.00" r="1.88" fill="#fff" stroke="#505050" stroke-width="1.1"/>
<circle cx="469.10" cy="540.24" r="1.88" fill="#fff" stroke="#505050" stroke-width="1.1"/>
<circle cx="469.10" cy="542.45" r="1.88" fill="#fff" stroke="#505050" stroke-width="1.1"/>
<circle cx="469.10" cy="544.66" r="1.88" fill="#fff" stroke="#505050" stroke-width="1.1"/>
<circle cx="469.10" cy="551.46" r="1.88" fill="#fff" stroke="#505050" stroke-width="1.1"/>
<circle cx="469.10" cy="566.30" r="1.88" fill="#fff" stroke="#505050" stroke-width="1.1"/>
<circle cx="477.60" cy="550.55" r="1.88" fill="#fff" stroke="#505050" stroke-width="1.1"/>
<circle cx="477.60" cy="553.50" r="1.88" fill="#fff" stroke="#505050" stroke-width="1.1"/>
<circle cx="477.60" cy="561.88" r="1.88" fill="#fff" stroke="#505050" stroke-width="1.1"/>
<circle cx="477.60" cy="570.83" r="1.88" fill="#fff" stroke="#505050" stroke-width="1.1"/>
<circle cx="477.60" cy="578.42" r="1.88" fill="#fff" stroke="#505050" stroke-width="1.1"/>
<circle cx="486.10" cy="534.35" r="1.88" fill="#fff" stroke="#505050" stroke-width="1.1"/>
<circle cx="503.10" cy="537.75" r="1.88" fill="#fff" stroke="#505050" stroke-width="1.1"/>
<rect x="331.15" y="562.31" width="3.9" height="23.61" fill="#000"/>
<circle cx="333.10" cy="568.20" r="1.88" fill="#fff" stroke="#505050" stroke-width="1.1"/>
<circle cx="333.10" cy="583.97" r="1.88" fill="#fff" stroke="#505050" stroke-width="1.1"/>
<rect x="339.65" y="542.71" width="3.9" height="39.25" fill="#000"/>
<circle cx="341.60" cy="544.66" r="1.88" fill="#fff" stroke="#505050" stroke-width="1.1"/>
<circle cx="341.60" cy="557.91" r="1.88" fill="#fff" stroke="#505050" stroke-width="1.1"/>
<rect x="348.15" y="546.56" width="3.9" height="37.44" fill="#000"/>
<circle cx="350.10" cy="552.70" r="1.88" fill="#fff" stroke="#505050" stroke-width="1.1"/>
<circle cx="350.10" cy="565.28" r="1.88" fill="#fff" stroke="#505050" stroke-width="1.1"/>
<circle cx="350.10" cy="569.47" r="1.88" fill="#fff" stroke="#505050" stroke-width="1.1"/>
<rect x="356.65" y="546.56" width="3.9" height="36.42" fill="#000"/>
<circle cx="358.60" cy="556.64" r="1.88" fill="#fff" stroke="#505050" stroke-width="1.1"/>
<circle cx="358.60" cy="572.90" r="1.88" fill="#fff" stroke="#505050" stroke-width="1.1"/>
<rect x="365.15" y="549.51" width="3.9" height="28.60" fill="#000"/>
<circle cx="367.10" cy="559.69" r="1.88" fill="#fff" stroke="#505050" stroke-width="1.1"/>
<rect x="373.65" y="557.32" width="3.9" height="13.87" fill="#000"/>
<circle cx="375.60" cy="564.26" r="1.88" fill="#fff" stroke="#505050" stroke-width="1.1"/>
<circle cx="375.60" cy="569.24" r="1.88" fill="#fff" stroke="#505050" stroke-width="1.1"/>
<rect x="348.15" y="539.20" width="3.9" height="3.9" fill="#000"/>
<rect x="373.65" y="552.45" width="3.9" height="3.9" fill="#000"/>
<rect x="373.65" y="554.89" width="3.9" height="3.9" fill="#000"/>
<rect x="373.65" y="557.32" width="3.9" height="3.9" fill="#000"/>
<rect x="382.15" y="562.31" width="3.9" height="3.9" fill="#000"/>
<rect x="390.65" y="543.61" width="3.9" height="3.9" fill="#000"/>
<rect x="390.65" y="557.44" width="3.9" height="3.9" fill="#000"/>
<rect x="390.65" y="560.04" width="3.9" height="3.9" fill="#000"/>
<rect x="390.65" y="562.65" width="3.9" height="3.9" fill="#000"/>
<rect x="390.65" y="565.25" width="3.9" height="3.9" fill="#000"/>
<rect x="399.15" y="546.56" width="3.9" height="3.9" fill="#000"/>
<rect x="399.15" y="550.53" width="3.9" height="3.9" fill="#000"/>
<rect x="407.65" y="540.33" width="3.9" height="3.9" fill="#000"/>
<rect x="407.65" y="562.31" width="3.9" height="3.9" fill="#000"/>
<rect x="416.15" y="574.21" width="3.9" height="3.9" fill="#000"/>
<rect x="433.15" y="538.29" width="3.9" height="3.9" fill="#000"/>
<rect x="433.15" y="561.40" width="3.9" height="3.9" fill="#000"/>
<rect x="433.15" y="564.35" width="3.9" height="3.9" fill="#000"/>
<rect x="441.65" y="546.22" width="3.9" height="3.9" fill="#000"/>
<rect x="441.65" y="568.31" width="3.9" height="3.9" fill="#000"/>
<rect x="441.65" y="570.24" width="3.9" height="3.9" fill="#000"/>
<rect x="458.65" y="576.47" width="3.9" height="3.9" fill="#000"/>
<path d="M333.10,569.81 L460.60,556.44" fill="none" stroke="#a82338" stroke-width="1.3"/>
<path d="M333.10,565.73 L503.10,537.75" fill="none" stroke="#3c5a8c" stroke-width="1.3"/>
<line x1="333.1" y1="467.1" x2="333.1" y2="589.2" stroke="#231f20" stroke-width="1.2"/>
<line x1="328.1" y1="584.2" x2="508.0" y2="584.2" stroke="#231f20" stroke-width="1.2"/>
<line x1="328.1" y1="584.20" x2="333.1" y2="584.20" stroke="#231f20" stroke-width="1.1"/>
<text x="323.90" y="587.50" font-size="9.0" letter-spacing="-0.2" text-anchor="end" fill="#383838">0</text>
<line x1="328.1" y1="561.54" x2="333.1" y2="561.54" stroke="#231f20" stroke-width="1.1"/>
<text x="323.90" y="564.84" font-size="9.0" letter-spacing="-0.2" text-anchor="end" fill="#383838">20</text>
<line x1="328.1" y1="538.88" x2="333.1" y2="538.88" stroke="#231f20" stroke-width="1.1"/>
<text x="323.90" y="542.18" font-size="9.0" letter-spacing="-0.2" text-anchor="end" fill="#383838">40</text>
<line x1="328.1" y1="516.22" x2="333.1" y2="516.22" stroke="#231f20" stroke-width="1.1"/>
<text x="323.90" y="519.52" font-size="9.0" letter-spacing="-0.2" text-anchor="end" fill="#383838">60</text>
<line x1="328.1" y1="493.56" x2="333.1" y2="493.56" stroke="#231f20" stroke-width="1.1"/>
<text x="323.90" y="496.86" font-size="9.0" letter-spacing="-0.2" text-anchor="end" fill="#383838">80</text>
<line x1="328.1" y1="470.90" x2="333.1" y2="470.90" stroke="#231f20" stroke-width="1.1"/>
<text x="323.90" y="474.20" font-size="9.0" letter-spacing="-0.2" text-anchor="end" fill="#383838">100</text>
<line x1="333.10" y1="584.2" x2="333.10" y2="589.2" stroke="#231f20" stroke-width="1.1"/>
<text x="333.10" y="601.9" font-size="9.2" letter-spacing="-0.25" text-anchor="middle" fill="#383838">0</text>
<line x1="350.10" y1="584.2" x2="350.10" y2="589.2" stroke="#231f20" stroke-width="1.1"/>
<text x="350.10" y="601.9" font-size="9.2" letter-spacing="-0.25" text-anchor="middle" fill="#383838">2</text>
<line x1="367.10" y1="584.2" x2="367.10" y2="589.2" stroke="#231f20" stroke-width="1.1"/>
<text x="367.10" y="601.9" font-size="9.2" letter-spacing="-0.25" text-anchor="middle" fill="#383838">4</text>
<line x1="384.10" y1="584.2" x2="384.10" y2="589.2" stroke="#231f20" stroke-width="1.1"/>
<text x="384.10" y="601.9" font-size="9.2" letter-spacing="-0.25" text-anchor="middle" fill="#383838">6</text>
<line x1="401.10" y1="584.2" x2="401.10" y2="589.2" stroke="#231f20" stroke-width="1.1"/>
<text x="401.10" y="601.9" font-size="9.2" letter-spacing="-0.25" text-anchor="middle" fill="#383838">8</text>
<line x1="418.10" y1="584.2" x2="418.10" y2="589.2" stroke="#231f20" stroke-width="1.1"/>
<text x="418.10" y="601.9" font-size="9.2" letter-spacing="-0.25" text-anchor="middle" fill="#383838">10</text>
<line x1="435.10" y1="584.2" x2="435.10" y2="589.2" stroke="#231f20" stroke-width="1.1"/>
<text x="435.10" y="601.9" font-size="9.2" letter-spacing="-0.25" text-anchor="middle" fill="#383838">12</text>
<line x1="452.10" y1="584.2" x2="452.10" y2="589.2" stroke="#231f20" stroke-width="1.1"/>
<text x="452.10" y="601.9" font-size="9.2" letter-spacing="-0.25" text-anchor="middle" fill="#383838">14</text>
<line x1="469.10" y1="584.2" x2="469.10" y2="589.2" stroke="#231f20" stroke-width="1.1"/>
<text x="469.10" y="601.9" font-size="9.2" letter-spacing="-0.25" text-anchor="middle" fill="#383838">16</text>
<line x1="486.10" y1="584.2" x2="486.10" y2="589.2" stroke="#231f20" stroke-width="1.1"/>
<text x="486.10" y="601.9" font-size="9.2" letter-spacing="-0.25" text-anchor="middle" fill="#383838">18</text>
<line x1="503.10" y1="584.2" x2="503.10" y2="589.2" stroke="#231f20" stroke-width="1.1"/>
<text x="503.10" y="601.9" font-size="9.2" letter-spacing="-0.25" text-anchor="middle" fill="#383838">20</text>
<text x="420.0" y="620.1" font-size="11.8" text-anchor="middle" fill="#383838">Age (years)</text>
<text transform="translate(283.0,527.5) rotate(-90)" x="0" y="0" font-size="12.2" text-anchor="middle" fill="#383838">CD8+CD45RA-CD27+</text>
<text transform="translate(297.5,527.5) rotate(-90)" x="0" y="0" font-size="12.2" text-anchor="middle" fill="#383838">(%)</text>
<text transform="translate(274.3,450.8) scale(0.74,1)" x="0" y="0" font-size="16.6" fill="#383838">F</text>
<circle cx="196.5" cy="67.4" r="1.9" fill="#fff" stroke="#505050" stroke-width="1.0"/>
<line x1="190.1" y1="67.4" x2="202.8" y2="67.4" stroke="#3c5a8c" stroke-width="1.1"/>
<line x1="190.1" y1="80.4" x2="202.8" y2="80.4" stroke="#a82338" stroke-width="1.2"/>
<rect x="194.75" y="78.65" width="3.5" height="3.5" fill="#000"/>
<text x="206.6" y="70.4" font-size="9.4" fill="#383838">Patients</text>
<text x="207.7" y="83.5" font-size="9.3" fill="#383838">Controls</text>
<circle cx="456.5" cy="67.4" r="1.9" fill="#fff" stroke="#505050" stroke-width="1.0"/>
<line x1="450.1" y1="67.4" x2="462.8" y2="67.4" stroke="#3c5a8c" stroke-width="1.1"/>
<line x1="450.1" y1="80.4" x2="462.8" y2="80.4" stroke="#a82338" stroke-width="1.2"/>
<rect x="454.75" y="78.65" width="3.5" height="3.5" fill="#000"/>
<text x="466.6" y="70.4" font-size="9.4" fill="#383838">Patients</text>
<text x="467.7" y="83.5" font-size="9.3" fill="#383838">Controls</text>
<rect x="0" y="1" width="2" height="633" fill="#262621"/>
<rect x="0" y="1" width="519" height="1" fill="#262621"/>
<rect x="518" y="1" width="1" height="633" fill="#262621"/>
<rect x="0" y="633" width="519" height="1" fill="#262621"/>
<rect x="0" y="0" width="520" height="1" fill="#a2a29c"/>
<rect x="519" y="0" width="1" height="635" fill="#a2a29c"/>
<rect x="0" y="634" width="520" height="1" fill="#a2a29c"/>
</svg></body></html>
